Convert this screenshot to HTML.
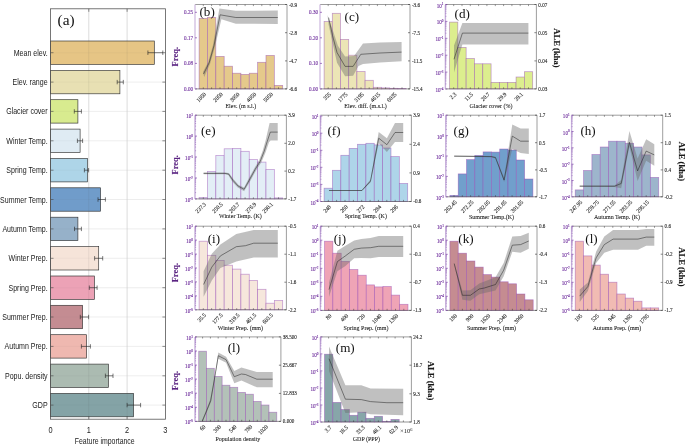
<!DOCTYPE html>
<html><head><meta charset="utf-8"><title>Feature importance and ALE plots</title>
<style>html,body{margin:0;padding:0;background:#fff}svg{display:block;will-change:transform}.s{font-family:"Liberation Serif",serif}.a{font-family:"Liberation Sans",sans-serif}</style></head>
<body><svg width="685" height="447" viewBox="0 0 685 447">
<rect width="685" height="447" fill="#fff"/>
<rect x="50.5" y="8.8" width="114.9" height="410.4" fill="#fff"/>
<line x1="88.8" y1="8.8" x2="88.8" y2="419.2" stroke="#e3e3e3" stroke-width="0.7"/>
<line x1="127.1" y1="8.8" x2="127.1" y2="419.2" stroke="#e3e3e3" stroke-width="0.7"/>
<line x1="50.5" y1="52.7" x2="165.4" y2="52.7" stroke="#ececec" stroke-width="0.6"/>
<line x1="50.5" y1="82.1" x2="165.4" y2="82.1" stroke="#ececec" stroke-width="0.6"/>
<line x1="50.5" y1="111.4" x2="165.4" y2="111.4" stroke="#ececec" stroke-width="0.6"/>
<line x1="50.5" y1="140.8" x2="165.4" y2="140.8" stroke="#ececec" stroke-width="0.6"/>
<line x1="50.5" y1="170.2" x2="165.4" y2="170.2" stroke="#ececec" stroke-width="0.6"/>
<line x1="50.5" y1="199.5" x2="165.4" y2="199.5" stroke="#ececec" stroke-width="0.6"/>
<line x1="50.5" y1="228.9" x2="165.4" y2="228.9" stroke="#ececec" stroke-width="0.6"/>
<line x1="50.5" y1="258.3" x2="165.4" y2="258.3" stroke="#ececec" stroke-width="0.6"/>
<line x1="50.5" y1="287.7" x2="165.4" y2="287.7" stroke="#ececec" stroke-width="0.6"/>
<line x1="50.5" y1="317.0" x2="165.4" y2="317.0" stroke="#ececec" stroke-width="0.6"/>
<line x1="50.5" y1="346.4" x2="165.4" y2="346.4" stroke="#ececec" stroke-width="0.6"/>
<line x1="50.5" y1="375.8" x2="165.4" y2="375.8" stroke="#ececec" stroke-width="0.6"/>
<line x1="50.5" y1="405.1" x2="165.4" y2="405.1" stroke="#ececec" stroke-width="0.6"/>
<rect x="50.5" y="41.0" width="103.8" height="23.4" fill="#e4c17c" fill-opacity="0.93" stroke="#303030" stroke-width="0.65"/>
<path d="M147.9 52.7H162.8M147.9 50.5V54.9M162.8 50.5V54.9" stroke="#222" stroke-width="0.6" fill="none"/>
<path d="M50.5 52.7h3M165.4 52.7h-3" stroke="#444" stroke-width="0.6"/>
<text x="47.6" y="55.8" class="a" font-size="9.2" text-anchor="end" fill="#1a1a1a" transform="translate(47.6 0) scale(0.765 1) translate(-47.6 0)">Mean elev.</text>
<rect x="50.5" y="70.4" width="69.4" height="23.4" fill="#e6dead" fill-opacity="0.93" stroke="#303030" stroke-width="0.65"/>
<path d="M117.2 82.1H123.3M117.2 79.9V84.3M123.3 79.9V84.3" stroke="#222" stroke-width="0.6" fill="none"/>
<path d="M50.5 82.1h3M165.4 82.1h-3" stroke="#444" stroke-width="0.6"/>
<text x="47.6" y="85.2" class="a" font-size="9.2" text-anchor="end" fill="#1a1a1a" transform="translate(47.6 0) scale(0.765 1) translate(-47.6 0)">Elev. range</text>
<rect x="50.5" y="99.7" width="27.4" height="23.4" fill="#d5ea86" fill-opacity="0.93" stroke="#303030" stroke-width="0.65"/>
<path d="M74.3 111.4H81.4M74.3 109.2V113.6M81.4 109.2V113.6" stroke="#222" stroke-width="0.6" fill="none"/>
<path d="M50.5 111.4h3M165.4 111.4h-3" stroke="#444" stroke-width="0.6"/>
<text x="47.6" y="114.5" class="a" font-size="9.2" text-anchor="end" fill="#1a1a1a" transform="translate(47.6 0) scale(0.765 1) translate(-47.6 0)">Glacier cover</text>
<rect x="50.5" y="129.1" width="29.6" height="23.4" fill="#dde9f2" fill-opacity="0.93" stroke="#303030" stroke-width="0.65"/>
<path d="M77.4 140.8H82.6M77.4 138.6V143.0M82.6 138.6V143.0" stroke="#222" stroke-width="0.6" fill="none"/>
<path d="M50.5 140.8h3M165.4 140.8h-3" stroke="#444" stroke-width="0.6"/>
<text x="47.6" y="143.9" class="a" font-size="9.2" text-anchor="end" fill="#1a1a1a" transform="translate(47.6 0) scale(0.765 1) translate(-47.6 0)">Winter Temp.</text>
<rect x="50.5" y="158.5" width="37.0" height="23.4" fill="#a8d2e6" fill-opacity="0.93" stroke="#303030" stroke-width="0.65"/>
<path d="M84.4 170.2H88.6M84.4 168.0V172.4M88.6 168.0V172.4" stroke="#222" stroke-width="0.6" fill="none"/>
<path d="M50.5 170.2h3M165.4 170.2h-3" stroke="#444" stroke-width="0.6"/>
<text x="47.6" y="173.3" class="a" font-size="9.2" text-anchor="end" fill="#1a1a1a" transform="translate(47.6 0) scale(0.765 1) translate(-47.6 0)">Spring Temp.</text>
<rect x="50.5" y="187.8" width="50.0" height="23.4" fill="#6595c6" fill-opacity="0.93" stroke="#303030" stroke-width="0.65"/>
<path d="M98 199.5H105.4M98 197.3V201.7M105.4 197.3V201.7" stroke="#222" stroke-width="0.6" fill="none"/>
<path d="M50.5 199.5h3M165.4 199.5h-3" stroke="#444" stroke-width="0.6"/>
<text x="47.6" y="202.6" class="a" font-size="9.2" text-anchor="end" fill="#1a1a1a" transform="translate(47.6 0) scale(0.765 1) translate(-47.6 0)">Summer Temp.</text>
<rect x="50.5" y="217.2" width="27.4" height="23.4" fill="#8eabc5" fill-opacity="0.93" stroke="#303030" stroke-width="0.65"/>
<path d="M74.5 228.9H81.4M74.5 226.7V231.1M81.4 226.7V231.1" stroke="#222" stroke-width="0.6" fill="none"/>
<path d="M50.5 228.9h3M165.4 228.9h-3" stroke="#444" stroke-width="0.6"/>
<text x="47.6" y="232.0" class="a" font-size="9.2" text-anchor="end" fill="#1a1a1a" transform="translate(47.6 0) scale(0.765 1) translate(-47.6 0)">Autumn Temp.</text>
<rect x="50.5" y="246.6" width="48.2" height="23.4" fill="#f5e2d6" fill-opacity="0.93" stroke="#303030" stroke-width="0.65"/>
<path d="M94.6 258.3H102.7M94.6 256.1V260.5M102.7 256.1V260.5" stroke="#222" stroke-width="0.6" fill="none"/>
<path d="M50.5 258.3h3M165.4 258.3h-3" stroke="#444" stroke-width="0.6"/>
<text x="47.6" y="261.4" class="a" font-size="9.2" text-anchor="end" fill="#1a1a1a" transform="translate(47.6 0) scale(0.765 1) translate(-47.6 0)">Winter Prep.</text>
<rect x="50.5" y="276.0" width="43.9" height="23.4" fill="#eb9bb0" fill-opacity="0.93" stroke="#303030" stroke-width="0.65"/>
<path d="M89.3 287.7H97.1M89.3 285.5V289.9M97.1 285.5V289.9" stroke="#222" stroke-width="0.6" fill="none"/>
<path d="M50.5 287.7h3M165.4 287.7h-3" stroke="#444" stroke-width="0.6"/>
<text x="47.6" y="290.8" class="a" font-size="9.2" text-anchor="end" fill="#1a1a1a" transform="translate(47.6 0) scale(0.765 1) translate(-47.6 0)">Spring Prep.</text>
<rect x="50.5" y="305.3" width="32.1" height="23.4" fill="#c0838a" fill-opacity="0.93" stroke="#303030" stroke-width="0.65"/>
<path d="M80.3 317.0H88.6M80.3 314.8V319.2M88.6 314.8V319.2" stroke="#222" stroke-width="0.6" fill="none"/>
<path d="M50.5 317.0h3M165.4 317.0h-3" stroke="#444" stroke-width="0.6"/>
<text x="47.6" y="320.1" class="a" font-size="9.2" text-anchor="end" fill="#1a1a1a" transform="translate(47.6 0) scale(0.765 1) translate(-47.6 0)">Summer Prep.</text>
<rect x="50.5" y="334.7" width="36.1" height="23.4" fill="#eeb3aa" fill-opacity="0.93" stroke="#303030" stroke-width="0.65"/>
<path d="M81.4 346.4H90.4M81.4 344.2V348.6M90.4 344.2V348.6" stroke="#222" stroke-width="0.6" fill="none"/>
<path d="M50.5 346.4h3M165.4 346.4h-3" stroke="#444" stroke-width="0.6"/>
<text x="47.6" y="349.5" class="a" font-size="9.2" text-anchor="end" fill="#1a1a1a" transform="translate(47.6 0) scale(0.765 1) translate(-47.6 0)">Autumn Prep.</text>
<rect x="50.5" y="364.1" width="58.0" height="23.4" fill="#a5b6ab" fill-opacity="0.93" stroke="#303030" stroke-width="0.65"/>
<path d="M105.4 375.8H113.0M105.4 373.6V378.0M113.0 373.6V378.0" stroke="#222" stroke-width="0.6" fill="none"/>
<path d="M50.5 375.8h3M165.4 375.8h-3" stroke="#444" stroke-width="0.6"/>
<text x="47.6" y="378.9" class="a" font-size="9.2" text-anchor="end" fill="#1a1a1a" transform="translate(47.6 0) scale(0.765 1) translate(-47.6 0)">Popu. density</text>
<rect x="50.5" y="393.4" width="83.1" height="23.4" fill="#7b9c9f" fill-opacity="0.93" stroke="#303030" stroke-width="0.65"/>
<path d="M127.1 405.1H140.6M127.1 402.9V407.3M140.6 402.9V407.3" stroke="#222" stroke-width="0.6" fill="none"/>
<path d="M50.5 405.1h3M165.4 405.1h-3" stroke="#444" stroke-width="0.6"/>
<text x="47.6" y="408.2" class="a" font-size="9.2" text-anchor="end" fill="#1a1a1a" transform="translate(47.6 0) scale(0.765 1) translate(-47.6 0)">GDP</text>
<line x1="88.8" y1="8.8" x2="88.8" y2="419.2" stroke="#555" stroke-opacity="0.13" stroke-width="0.7"/>
<line x1="127.1" y1="8.8" x2="127.1" y2="419.2" stroke="#555" stroke-opacity="0.13" stroke-width="0.7"/>
<line x1="50.5" y1="52.7" x2="165.4" y2="52.7" stroke="#555" stroke-opacity="0.08" stroke-width="0.6"/>
<line x1="50.5" y1="82.1" x2="165.4" y2="82.1" stroke="#555" stroke-opacity="0.08" stroke-width="0.6"/>
<line x1="50.5" y1="111.4" x2="165.4" y2="111.4" stroke="#555" stroke-opacity="0.08" stroke-width="0.6"/>
<line x1="50.5" y1="140.8" x2="165.4" y2="140.8" stroke="#555" stroke-opacity="0.08" stroke-width="0.6"/>
<line x1="50.5" y1="170.2" x2="165.4" y2="170.2" stroke="#555" stroke-opacity="0.08" stroke-width="0.6"/>
<line x1="50.5" y1="199.5" x2="165.4" y2="199.5" stroke="#555" stroke-opacity="0.08" stroke-width="0.6"/>
<line x1="50.5" y1="228.9" x2="165.4" y2="228.9" stroke="#555" stroke-opacity="0.08" stroke-width="0.6"/>
<line x1="50.5" y1="258.3" x2="165.4" y2="258.3" stroke="#555" stroke-opacity="0.08" stroke-width="0.6"/>
<line x1="50.5" y1="287.7" x2="165.4" y2="287.7" stroke="#555" stroke-opacity="0.08" stroke-width="0.6"/>
<line x1="50.5" y1="317.0" x2="165.4" y2="317.0" stroke="#555" stroke-opacity="0.08" stroke-width="0.6"/>
<line x1="50.5" y1="346.4" x2="165.4" y2="346.4" stroke="#555" stroke-opacity="0.08" stroke-width="0.6"/>
<line x1="50.5" y1="375.8" x2="165.4" y2="375.8" stroke="#555" stroke-opacity="0.08" stroke-width="0.6"/>
<line x1="50.5" y1="405.1" x2="165.4" y2="405.1" stroke="#555" stroke-opacity="0.08" stroke-width="0.6"/>
<rect x="50.5" y="8.8" width="114.9" height="410.4" fill="none" stroke="#555" stroke-width="0.8"/>
<text x="50.5" y="432.6" class="a" font-size="9.2" text-anchor="middle" fill="#1a1a1a" transform="translate(50.5 0) scale(0.8 1) translate(-50.5 0)">0</text>
<path d="M88.8 419.2v-3M88.8 8.8v3" stroke="#444" stroke-width="0.6"/>
<text x="88.8" y="432.6" class="a" font-size="9.2" text-anchor="middle" fill="#1a1a1a" transform="translate(88.8 0) scale(0.8 1) translate(-88.8 0)">1</text>
<path d="M127.1 419.2v-3M127.1 8.8v3" stroke="#444" stroke-width="0.6"/>
<text x="127.1" y="432.6" class="a" font-size="9.2" text-anchor="middle" fill="#1a1a1a" transform="translate(127.1 0) scale(0.8 1) translate(-127.1 0)">2</text>
<text x="165.4" y="432.6" class="a" font-size="9.2" text-anchor="middle" fill="#1a1a1a" transform="translate(165.4 0) scale(0.8 1) translate(-165.4 0)">3</text>
<text x="104.7" y="443.8" class="a" font-size="9.2" text-anchor="middle" fill="#1a1a1a" textLength="59.8" lengthAdjust="spacingAndGlyphs">Feature importance</text>
<text x="0" y="0" class="s" font-size="15.4" fill="#111" transform="translate(57.6 24.9) scale(1 0.9)">(a)</text>
<g>
<rect x="199.10" y="18.4" width="8.36" height="70.5" fill="#e5c98b" stroke="#9345b3" stroke-opacity="0.55" stroke-width="0.72"/>
<rect x="207.46" y="17.4" width="8.36" height="71.5" fill="#e5c98b" stroke="#9345b3" stroke-opacity="0.55" stroke-width="0.72"/>
<rect x="215.82" y="56.4" width="8.36" height="32.5" fill="#e5c98b" stroke="#9345b3" stroke-opacity="0.55" stroke-width="0.72"/>
<rect x="224.18" y="66.2" width="8.36" height="22.7" fill="#e5c98b" stroke="#9345b3" stroke-opacity="0.55" stroke-width="0.72"/>
<rect x="232.54" y="73.2" width="8.36" height="15.7" fill="#e5c98b" stroke="#9345b3" stroke-opacity="0.55" stroke-width="0.72"/>
<rect x="240.90" y="74.4" width="8.36" height="14.5" fill="#e5c98b" stroke="#9345b3" stroke-opacity="0.55" stroke-width="0.72"/>
<rect x="249.26" y="73.2" width="8.36" height="15.7" fill="#e5c98b" stroke="#9345b3" stroke-opacity="0.55" stroke-width="0.72"/>
<rect x="257.62" y="62.3" width="8.36" height="26.6" fill="#e5c98b" stroke="#9345b3" stroke-opacity="0.55" stroke-width="0.72"/>
<rect x="265.98" y="55.4" width="8.36" height="33.5" fill="#e5c98b" stroke="#9345b3" stroke-opacity="0.55" stroke-width="0.72"/>
<rect x="274.34" y="85.4" width="8.36" height="3.5" fill="#e5c98b" stroke="#9345b3" stroke-opacity="0.55" stroke-width="0.72"/>
<polygon points="203.0,72.0 208.4,61.5 213.0,45.0 219.4,8.6 235.8,10.8 277.8,10.6 277.8,24.0 235.8,23.7 221.4,19.2 215.0,46.4 210.0,64.0 204.2,77.0" fill="#6a6a6a" fill-opacity="0.42"/>
<polyline points="203.5,74.0 209.2,62.7 214.0,45.6 220.1,14.8 235.8,17.5 277.8,17.5" fill="none" stroke="#1e1e1e" stroke-width="0.5" stroke-linejoin="round"/>
<path d="M195.0 4.5H287.0V88.9" fill="none" stroke="#858585" stroke-width="0.8"/>
<path d="M195.0 88.9H287.0" fill="none" stroke="#4a4a4a" stroke-width="0.6"/>
<line x1="195.0" y1="4.5" x2="195.0" y2="88.9" stroke="#d3c0e3" stroke-width="1.4"/>
<line x1="195.0" y1="12.3" x2="197.0" y2="12.3" stroke="#6d2c9c" stroke-width="0.6"/>
<text class="s" font-size="5.5" text-anchor="end" fill="#6d2c9c" stroke="#6d2c9c" stroke-width="0.12" transform="translate(193.0 14.2) scale(0.93 1)">0.25</text>
<line x1="195.0" y1="37.8" x2="197.0" y2="37.8" stroke="#6d2c9c" stroke-width="0.6"/>
<text class="s" font-size="5.5" text-anchor="end" fill="#6d2c9c" stroke="#6d2c9c" stroke-width="0.12" transform="translate(193.0 39.7) scale(0.93 1)">0.17</text>
<line x1="195.0" y1="63.4" x2="197.0" y2="63.4" stroke="#6d2c9c" stroke-width="0.6"/>
<text class="s" font-size="5.5" text-anchor="end" fill="#6d2c9c" stroke="#6d2c9c" stroke-width="0.12" transform="translate(193.0 65.3) scale(0.93 1)">0.08</text>
<line x1="195.0" y1="88.9" x2="197.0" y2="88.9" stroke="#6d2c9c" stroke-width="0.6"/>
<text class="s" font-size="5.5" text-anchor="end" fill="#6d2c9c" stroke="#6d2c9c" stroke-width="0.12" transform="translate(193.0 90.8) scale(0.93 1)">0.00</text>
<line x1="287.0" y1="4.5" x2="285.0" y2="4.5" stroke="#333" stroke-width="0.6"/>
<text class="s" font-size="5.5" fill="#1c1c1c" stroke="#1c1c1c" stroke-width="0.1" transform="translate(288.9 6.5) scale(0.93 1)">-0.9</text>
<line x1="287.0" y1="32.7" x2="285.0" y2="32.7" stroke="#333" stroke-width="0.6"/>
<text class="s" font-size="5.5" fill="#1c1c1c" stroke="#1c1c1c" stroke-width="0.1" transform="translate(288.9 34.7) scale(0.93 1)">-2.8</text>
<line x1="287.0" y1="60.9" x2="285.0" y2="60.9" stroke="#333" stroke-width="0.6"/>
<text class="s" font-size="5.5" fill="#1c1c1c" stroke="#1c1c1c" stroke-width="0.1" transform="translate(288.9 62.9) scale(0.93 1)">-4.7</text>
<line x1="287.0" y1="88.9" x2="285.0" y2="88.9" stroke="#333" stroke-width="0.6"/>
<text class="s" font-size="5.5" fill="#1c1c1c" stroke="#1c1c1c" stroke-width="0.1" transform="translate(288.9 90.9) scale(0.93 1)">-6.6</text>
<path d="M203.3 88.9v-1.6M203.3 4.5v1.6M211.6 88.9v-1.6M211.6 4.5v1.6M220.0 88.9v-1.6M220.0 4.5v1.6M228.4 88.9v-1.6M228.4 4.5v1.6M236.7 88.9v-1.6M236.7 4.5v1.6M245.1 88.9v-1.6M245.1 4.5v1.6M253.4 88.9v-1.6M253.4 4.5v1.6M261.8 88.9v-1.6M261.8 4.5v1.6M270.2 88.9v-1.6M270.2 4.5v1.6M278.5 88.9v-1.6M278.5 4.5v1.6" stroke="#333" stroke-width="0.5"/>
<text class="s" font-size="5.9" text-anchor="end" fill="#1c1c1c" stroke="#1c1c1c" stroke-width="0.1" transform="translate(205.3 93.5) rotate(-45) scale(0.93 1)" dy="1.7">1050</text>
<text class="s" font-size="5.9" text-anchor="end" fill="#1c1c1c" stroke="#1c1c1c" stroke-width="0.1" transform="translate(222.0 93.5) rotate(-45) scale(0.93 1)" dy="1.7">2050</text>
<text class="s" font-size="5.9" text-anchor="end" fill="#1c1c1c" stroke="#1c1c1c" stroke-width="0.1" transform="translate(238.7 93.5) rotate(-45) scale(0.93 1)" dy="1.7">3050</text>
<text class="s" font-size="5.9" text-anchor="end" fill="#1c1c1c" stroke="#1c1c1c" stroke-width="0.1" transform="translate(255.4 93.5) rotate(-45) scale(0.93 1)" dy="1.7">4050</text>
<text class="s" font-size="5.9" text-anchor="end" fill="#1c1c1c" stroke="#1c1c1c" stroke-width="0.1" transform="translate(272.2 93.5) rotate(-45) scale(0.93 1)" dy="1.7">5050</text>
<text x="240.8" y="108.4" class="s" font-size="6" text-anchor="middle" fill="#1c1c1c" stroke="#1c1c1c" stroke-width="0.08">Elev. (m s.l.)</text>
<text class="s" font-size="12.6" fill="#111" transform="translate(199.5 16.4) scale(1.04 0.92)">(b)</text>

</g>
<g>
<rect x="324.10" y="21.5" width="8.20" height="67.4" fill="#ece5b6" stroke="#9345b3" stroke-opacity="0.55" stroke-width="0.72"/>
<rect x="332.30" y="13.3" width="8.20" height="75.6" fill="#ece5b6" stroke="#9345b3" stroke-opacity="0.55" stroke-width="0.72"/>
<rect x="340.50" y="39.4" width="8.20" height="49.5" fill="#ece5b6" stroke="#9345b3" stroke-opacity="0.55" stroke-width="0.72"/>
<rect x="348.70" y="55.2" width="8.20" height="33.7" fill="#ece5b6" stroke="#9345b3" stroke-opacity="0.55" stroke-width="0.72"/>
<rect x="356.90" y="71.5" width="8.20" height="17.4" fill="#ece5b6" stroke="#9345b3" stroke-opacity="0.55" stroke-width="0.72"/>
<rect x="365.10" y="80.3" width="8.20" height="8.6" fill="#ece5b6" stroke="#9345b3" stroke-opacity="0.55" stroke-width="0.72"/>
<rect x="373.30" y="87.3" width="8.20" height="1.6" fill="#ece5b6" stroke="#9345b3" stroke-opacity="0.55" stroke-width="0.72"/>
<rect x="381.50" y="87.9" width="8.20" height="1.0" fill="#ece5b6" stroke="#9345b3" stroke-opacity="0.55" stroke-width="0.72"/>
<rect x="389.70" y="88.3" width="8.20" height="0.6" fill="#ece5b6" stroke="#9345b3" stroke-opacity="0.55" stroke-width="0.72"/>
<rect x="397.90" y="88.5" width="8.20" height="0.4" fill="#ece5b6" stroke="#9345b3" stroke-opacity="0.55" stroke-width="0.72"/>
<polygon points="327.5,14.9 333.4,31.9 337.9,45.8 345.1,56.4 354.0,56.0 363.0,43.5 380.0,42.6 401.6,41.9 401.6,61.3 380.0,62.5 363.0,64.1 358.5,65.9 353.1,75.7 345.1,76.2 337.0,62.8 332.5,42.6 328.6,24.7" fill="#6a6a6a" fill-opacity="0.42"/>
<polyline points="328.6,17.6 332.5,35.4 337.0,52.5 345.1,66.4 353.1,66.4 360.8,54.3 380.0,53.0 401.6,52.1" fill="none" stroke="#1e1e1e" stroke-width="0.5" stroke-linejoin="round"/>
<path d="M320.0 4.5H410.0V88.9" fill="none" stroke="#858585" stroke-width="0.8"/>
<path d="M320.0 88.9H410.0" fill="none" stroke="#4a4a4a" stroke-width="0.6"/>
<line x1="320.0" y1="4.5" x2="320.0" y2="88.9" stroke="#d3c0e3" stroke-width="1.4"/>
<line x1="320.0" y1="12.3" x2="322.0" y2="12.3" stroke="#6d2c9c" stroke-width="0.6"/>
<text class="s" font-size="5.5" text-anchor="end" fill="#6d2c9c" stroke="#6d2c9c" stroke-width="0.12" transform="translate(318.0 14.2) scale(0.93 1)">0.30</text>
<line x1="320.0" y1="37.8" x2="322.0" y2="37.8" stroke="#6d2c9c" stroke-width="0.6"/>
<text class="s" font-size="5.5" text-anchor="end" fill="#6d2c9c" stroke="#6d2c9c" stroke-width="0.12" transform="translate(318.0 39.7) scale(0.93 1)">0.20</text>
<line x1="320.0" y1="63.4" x2="322.0" y2="63.4" stroke="#6d2c9c" stroke-width="0.6"/>
<text class="s" font-size="5.5" text-anchor="end" fill="#6d2c9c" stroke="#6d2c9c" stroke-width="0.12" transform="translate(318.0 65.3) scale(0.93 1)">0.10</text>
<line x1="320.0" y1="88.9" x2="322.0" y2="88.9" stroke="#6d2c9c" stroke-width="0.6"/>
<text class="s" font-size="5.5" text-anchor="end" fill="#6d2c9c" stroke="#6d2c9c" stroke-width="0.12" transform="translate(318.0 90.8) scale(0.93 1)">0.00</text>
<line x1="410.0" y1="4.5" x2="408.0" y2="4.5" stroke="#333" stroke-width="0.6"/>
<text class="s" font-size="5.5" fill="#1c1c1c" stroke="#1c1c1c" stroke-width="0.1" transform="translate(411.9 6.5) scale(0.93 1)">-3.6</text>
<line x1="410.0" y1="32.7" x2="408.0" y2="32.7" stroke="#333" stroke-width="0.6"/>
<text class="s" font-size="5.5" fill="#1c1c1c" stroke="#1c1c1c" stroke-width="0.1" transform="translate(411.9 34.7) scale(0.93 1)">-7.5</text>
<line x1="410.0" y1="60.9" x2="408.0" y2="60.9" stroke="#333" stroke-width="0.6"/>
<text class="s" font-size="5.5" fill="#1c1c1c" stroke="#1c1c1c" stroke-width="0.1" transform="translate(411.9 62.9) scale(0.93 1)">-11.5</text>
<line x1="410.0" y1="88.9" x2="408.0" y2="88.9" stroke="#333" stroke-width="0.6"/>
<text class="s" font-size="5.5" fill="#1c1c1c" stroke="#1c1c1c" stroke-width="0.1" transform="translate(411.9 90.9) scale(0.93 1)">-15.4</text>
<path d="M328.2 88.9v-1.6M328.2 4.5v1.6M336.4 88.9v-1.6M336.4 4.5v1.6M344.6 88.9v-1.6M344.6 4.5v1.6M352.8 88.9v-1.6M352.8 4.5v1.6M361.0 88.9v-1.6M361.0 4.5v1.6M369.2 88.9v-1.6M369.2 4.5v1.6M377.4 88.9v-1.6M377.4 4.5v1.6M385.6 88.9v-1.6M385.6 4.5v1.6M393.8 88.9v-1.6M393.8 4.5v1.6M402.0 88.9v-1.6M402.0 4.5v1.6" stroke="#333" stroke-width="0.5"/>
<text class="s" font-size="5.9" text-anchor="end" fill="#1c1c1c" stroke="#1c1c1c" stroke-width="0.1" transform="translate(330.2 93.5) rotate(-45) scale(0.93 1)" dy="1.7">355</text>
<text class="s" font-size="5.9" text-anchor="end" fill="#1c1c1c" stroke="#1c1c1c" stroke-width="0.1" transform="translate(346.6 93.5) rotate(-45) scale(0.93 1)" dy="1.7">1775</text>
<text class="s" font-size="5.9" text-anchor="end" fill="#1c1c1c" stroke="#1c1c1c" stroke-width="0.1" transform="translate(363.0 93.5) rotate(-45) scale(0.93 1)" dy="1.7">3195</text>
<text class="s" font-size="5.9" text-anchor="end" fill="#1c1c1c" stroke="#1c1c1c" stroke-width="0.1" transform="translate(379.4 93.5) rotate(-45) scale(0.93 1)" dy="1.7">4615</text>
<text class="s" font-size="5.9" text-anchor="end" fill="#1c1c1c" stroke="#1c1c1c" stroke-width="0.1" transform="translate(395.8 93.5) rotate(-45) scale(0.93 1)" dy="1.7">6035</text>
<text x="365.5" y="108.4" class="s" font-size="6" text-anchor="middle" fill="#1c1c1c" stroke="#1c1c1c" stroke-width="0.08">Elev. diff. (m.s.l.)</text>
<text class="s" font-size="12.6" fill="#111" transform="translate(344.6 21.2) scale(1.04 0.92)">(c)</text>

</g>
<g>
<rect x="449.50" y="22.1" width="8.32" height="66.8" fill="#dcee8e" stroke="#9345b3" stroke-opacity="0.55" stroke-width="0.72"/>
<rect x="457.82" y="47.4" width="8.32" height="41.5" fill="#dcee8e" stroke="#9345b3" stroke-opacity="0.55" stroke-width="0.72"/>
<rect x="466.14" y="58.5" width="8.32" height="30.4" fill="#dcee8e" stroke="#9345b3" stroke-opacity="0.55" stroke-width="0.72"/>
<rect x="474.46" y="63.8" width="8.32" height="25.1" fill="#dcee8e" stroke="#9345b3" stroke-opacity="0.55" stroke-width="0.72"/>
<rect x="482.78" y="63.8" width="8.32" height="25.1" fill="#dcee8e" stroke="#9345b3" stroke-opacity="0.55" stroke-width="0.72"/>
<rect x="491.10" y="82.4" width="8.32" height="6.5" fill="#dcee8e" stroke="#9345b3" stroke-opacity="0.55" stroke-width="0.72"/>
<rect x="499.42" y="82.4" width="8.32" height="6.5" fill="#dcee8e" stroke="#9345b3" stroke-opacity="0.55" stroke-width="0.72"/>
<rect x="507.74" y="82.4" width="8.32" height="6.5" fill="#dcee8e" stroke="#9345b3" stroke-opacity="0.55" stroke-width="0.72"/>
<rect x="516.06" y="77.0" width="8.32" height="11.9" fill="#dcee8e" stroke="#9345b3" stroke-opacity="0.55" stroke-width="0.72"/>
<rect x="524.38" y="71.7" width="8.32" height="17.2" fill="#dcee8e" stroke="#9345b3" stroke-opacity="0.55" stroke-width="0.72"/>
<polygon points="454.0,45.6 462.4,22.9 528.4,22.9 528.4,44.6 462.4,44.6 454.0,72.6" fill="#6a6a6a" fill-opacity="0.42"/>
<polyline points="454.0,59.3 462.4,33.1 528.4,33.1" fill="none" stroke="#1e1e1e" stroke-width="0.5" stroke-linejoin="round"/>
<path d="M445.4 4.5H536.4V88.9" fill="none" stroke="#858585" stroke-width="0.8"/>
<path d="M445.4 88.9H536.4" fill="none" stroke="#4a4a4a" stroke-width="0.6"/>
<line x1="445.4" y1="4.5" x2="445.4" y2="88.9" stroke="#c6afdb" stroke-width="1.4"/>
<line x1="445.4" y1="4.5" x2="447.4" y2="4.5" stroke="#6d2c9c" stroke-width="0.6"/>
<text class="s" font-size="5.5" text-anchor="end" fill="#6d2c9c" stroke="#6d2c9c" stroke-width="0.12" transform="translate(443.4 7.5) scale(0.93 1)">10<tspan dy="-2.1" font-size="3.6">1</tspan></text>
<line x1="445.4" y1="21.4" x2="447.4" y2="21.4" stroke="#6d2c9c" stroke-width="0.6"/>
<text class="s" font-size="5.5" text-anchor="end" fill="#6d2c9c" stroke="#6d2c9c" stroke-width="0.12" transform="translate(443.4 24.4) scale(0.93 1)">10<tspan dy="-2.1" font-size="3.6">0</tspan></text>
<line x1="445.4" y1="38.3" x2="447.4" y2="38.3" stroke="#6d2c9c" stroke-width="0.6"/>
<text class="s" font-size="5.5" text-anchor="end" fill="#6d2c9c" stroke="#6d2c9c" stroke-width="0.12" transform="translate(443.4 41.3) scale(0.93 1)">10<tspan dy="-2.1" font-size="3.6">-1</tspan></text>
<line x1="445.4" y1="55.2" x2="447.4" y2="55.2" stroke="#6d2c9c" stroke-width="0.6"/>
<text class="s" font-size="5.5" text-anchor="end" fill="#6d2c9c" stroke="#6d2c9c" stroke-width="0.12" transform="translate(443.4 58.2) scale(0.93 1)">10<tspan dy="-2.1" font-size="3.6">-2</tspan></text>
<line x1="445.4" y1="72.1" x2="447.4" y2="72.1" stroke="#6d2c9c" stroke-width="0.6"/>
<text class="s" font-size="5.5" text-anchor="end" fill="#6d2c9c" stroke="#6d2c9c" stroke-width="0.12" transform="translate(443.4 75.1) scale(0.93 1)">10<tspan dy="-2.1" font-size="3.6">-3</tspan></text>
<line x1="445.4" y1="89.0" x2="447.4" y2="89.0" stroke="#6d2c9c" stroke-width="0.6"/>
<text class="s" font-size="5.5" text-anchor="end" fill="#6d2c9c" stroke="#6d2c9c" stroke-width="0.12" transform="translate(443.4 92.0) scale(0.93 1)">10<tspan dy="-2.1" font-size="3.6">-4</tspan></text>
<path d="M445.4 16.31h1.1M445.4 13.34h1.1M445.4 11.23h1.1M445.4 9.59h1.1M445.4 8.25h1.1M445.4 7.12h1.1M445.4 6.14h1.1M445.4 5.27h1.1M445.4 33.21h1.1M445.4 30.24h1.1M445.4 28.13h1.1M445.4 26.49h1.1M445.4 25.15h1.1M445.4 24.02h1.1M445.4 23.04h1.1M445.4 22.17h1.1M445.4 50.11h1.1M445.4 47.14h1.1M445.4 45.03h1.1M445.4 43.39h1.1M445.4 42.05h1.1M445.4 40.92h1.1M445.4 39.94h1.1M445.4 39.07h1.1M445.4 67.01h1.1M445.4 64.04h1.1M445.4 61.93h1.1M445.4 60.29h1.1M445.4 58.95h1.1M445.4 57.82h1.1M445.4 56.84h1.1M445.4 55.97h1.1M445.4 83.91h1.1M445.4 80.94h1.1M445.4 78.83h1.1M445.4 77.19h1.1M445.4 75.85h1.1M445.4 74.72h1.1M445.4 73.74h1.1M445.4 72.87h1.1" stroke="#6d2c9c" stroke-width="0.45" opacity="0.8"/>
<line x1="536.4" y1="4.5" x2="534.4" y2="4.5" stroke="#333" stroke-width="0.6"/>
<text class="s" font-size="5.5" fill="#1c1c1c" stroke="#1c1c1c" stroke-width="0.1" transform="translate(538.3 6.5) scale(0.93 1)">0.07</text>
<line x1="536.4" y1="32.7" x2="534.4" y2="32.7" stroke="#333" stroke-width="0.6"/>
<text class="s" font-size="5.5" fill="#1c1c1c" stroke="#1c1c1c" stroke-width="0.1" transform="translate(538.3 34.7) scale(0.93 1)">0.05</text>
<line x1="536.4" y1="60.9" x2="534.4" y2="60.9" stroke="#333" stroke-width="0.6"/>
<text class="s" font-size="5.5" fill="#1c1c1c" stroke="#1c1c1c" stroke-width="0.1" transform="translate(538.3 62.9) scale(0.93 1)">0.04</text>
<line x1="536.4" y1="88.9" x2="534.4" y2="88.9" stroke="#333" stroke-width="0.6"/>
<text class="s" font-size="5.5" fill="#1c1c1c" stroke="#1c1c1c" stroke-width="0.1" transform="translate(538.3 90.9) scale(0.93 1)">0.03</text>
<path d="M453.7 88.9v-1.6M453.7 4.5v1.6M462.0 88.9v-1.6M462.0 4.5v1.6M470.3 88.9v-1.6M470.3 4.5v1.6M478.6 88.9v-1.6M478.6 4.5v1.6M486.9 88.9v-1.6M486.9 4.5v1.6M495.3 88.9v-1.6M495.3 4.5v1.6M503.6 88.9v-1.6M503.6 4.5v1.6M511.9 88.9v-1.6M511.9 4.5v1.6M520.2 88.9v-1.6M520.2 4.5v1.6M528.5 88.9v-1.6M528.5 4.5v1.6" stroke="#333" stroke-width="0.5"/>
<text class="s" font-size="5.9" text-anchor="end" fill="#1c1c1c" stroke="#1c1c1c" stroke-width="0.1" transform="translate(455.7 93.5) rotate(-45) scale(0.93 1)" dy="1.7">2.3</text>
<text class="s" font-size="5.9" text-anchor="end" fill="#1c1c1c" stroke="#1c1c1c" stroke-width="0.1" transform="translate(472.3 93.5) rotate(-45) scale(0.93 1)" dy="1.7">11.5</text>
<text class="s" font-size="5.9" text-anchor="end" fill="#1c1c1c" stroke="#1c1c1c" stroke-width="0.1" transform="translate(488.9 93.5) rotate(-45) scale(0.93 1)" dy="1.7">20.7</text>
<text class="s" font-size="5.9" text-anchor="end" fill="#1c1c1c" stroke="#1c1c1c" stroke-width="0.1" transform="translate(505.6 93.5) rotate(-45) scale(0.93 1)" dy="1.7">29.9</text>
<text class="s" font-size="5.9" text-anchor="end" fill="#1c1c1c" stroke="#1c1c1c" stroke-width="0.1" transform="translate(522.2 93.5) rotate(-45) scale(0.93 1)" dy="1.7">39.1</text>
<text x="491.0" y="108.4" class="s" font-size="6" text-anchor="middle" fill="#1c1c1c" stroke="#1c1c1c" stroke-width="0.08">Glacier cover (%)</text>
<text class="s" font-size="12.6" fill="#111" transform="translate(454.6 18.4) scale(1.04 0.92)">(d)</text>

</g>
<g>
<rect x="199.10" y="197.4" width="8.36" height="1.5" fill="#e3eef6" stroke="#9345b3" stroke-opacity="0.55" stroke-width="0.72"/>
<rect x="207.46" y="171.5" width="8.36" height="27.4" fill="#e3eef6" stroke="#9345b3" stroke-opacity="0.55" stroke-width="0.72"/>
<rect x="215.82" y="155.5" width="8.36" height="43.4" fill="#e3eef6" stroke="#9345b3" stroke-opacity="0.55" stroke-width="0.72"/>
<rect x="224.18" y="148.8" width="8.36" height="50.1" fill="#e3eef6" stroke="#9345b3" stroke-opacity="0.55" stroke-width="0.72"/>
<rect x="232.54" y="148.4" width="8.36" height="50.5" fill="#e3eef6" stroke="#9345b3" stroke-opacity="0.55" stroke-width="0.72"/>
<rect x="240.90" y="151.3" width="8.36" height="47.6" fill="#e3eef6" stroke="#9345b3" stroke-opacity="0.55" stroke-width="0.72"/>
<rect x="249.26" y="159.6" width="8.36" height="39.3" fill="#e3eef6" stroke="#9345b3" stroke-opacity="0.55" stroke-width="0.72"/>
<rect x="257.62" y="162.1" width="8.36" height="36.8" fill="#e3eef6" stroke="#9345b3" stroke-opacity="0.55" stroke-width="0.72"/>
<rect x="265.98" y="169.4" width="8.36" height="29.5" fill="#e3eef6" stroke="#9345b3" stroke-opacity="0.55" stroke-width="0.72"/>
<rect x="274.34" y="197.9" width="8.36" height="1.0" fill="#e3eef6" stroke="#9345b3" stroke-opacity="0.55" stroke-width="0.72"/>
<polygon points="203.6,172.6 225.0,172.6 228.9,172.9 233.8,179.6 238.6,184.9 244.1,187.6 248.2,179.6 254.2,168.6 259.0,160.6 262.8,150.6 265.6,140.6 269.6,123.1 277.7,123.1 277.7,140.4 270.6,140.4 269.0,142.2 265.6,152.2 261.4,162.2 256.2,170.2 250.0,181.4 244.1,191.2 237.4,187.2 232.2,181.4 228.2,175.0 225.0,174.2 203.6,174.2" fill="#6a6a6a" fill-opacity="0.42"/>
<polyline points="203.6,173.4 225.0,173.4 228.6,174.0 233.0,180.4 238.1,186.0 244.1,189.3 249.1,180.4 255.2,169.3 260.2,161.3 264.2,151.2 267.3,141.2 270.3,132.1 277.7,132.1" fill="none" stroke="#1e1e1e" stroke-width="0.5" stroke-linejoin="round"/>
<path d="M195.0 115.2H286.4V198.9" fill="none" stroke="#858585" stroke-width="0.8"/>
<path d="M195.0 198.9H286.4" fill="none" stroke="#4a4a4a" stroke-width="0.6"/>
<line x1="195.0" y1="115.2" x2="195.0" y2="198.9" stroke="#c6afdb" stroke-width="1.4"/>
<line x1="195.0" y1="115.2" x2="197.0" y2="115.2" stroke="#6d2c9c" stroke-width="0.6"/>
<text class="s" font-size="5.5" text-anchor="end" fill="#6d2c9c" stroke="#6d2c9c" stroke-width="0.12" transform="translate(193.0 118.2) scale(0.93 1)">10<tspan dy="-2.1" font-size="3.6">1</tspan></text>
<line x1="195.0" y1="136.1" x2="197.0" y2="136.1" stroke="#6d2c9c" stroke-width="0.6"/>
<text class="s" font-size="5.5" text-anchor="end" fill="#6d2c9c" stroke="#6d2c9c" stroke-width="0.12" transform="translate(193.0 139.1) scale(0.93 1)">10<tspan dy="-2.1" font-size="3.6">0</tspan></text>
<line x1="195.0" y1="157.0" x2="197.0" y2="157.0" stroke="#6d2c9c" stroke-width="0.6"/>
<text class="s" font-size="5.5" text-anchor="end" fill="#6d2c9c" stroke="#6d2c9c" stroke-width="0.12" transform="translate(193.0 160.0) scale(0.93 1)">10<tspan dy="-2.1" font-size="3.6">-1</tspan></text>
<line x1="195.0" y1="178.0" x2="197.0" y2="178.0" stroke="#6d2c9c" stroke-width="0.6"/>
<text class="s" font-size="5.5" text-anchor="end" fill="#6d2c9c" stroke="#6d2c9c" stroke-width="0.12" transform="translate(193.0 181.0) scale(0.93 1)">10<tspan dy="-2.1" font-size="3.6">-2</tspan></text>
<line x1="195.0" y1="198.9" x2="197.0" y2="198.9" stroke="#6d2c9c" stroke-width="0.6"/>
<text class="s" font-size="5.5" text-anchor="end" fill="#6d2c9c" stroke="#6d2c9c" stroke-width="0.12" transform="translate(193.0 201.9) scale(0.93 1)">10<tspan dy="-2.1" font-size="3.6">-3</tspan></text>
<path d="M195.0 129.82h1.1M195.0 126.14h1.1M195.0 123.52h1.1M195.0 121.50h1.1M195.0 119.84h1.1M195.0 118.44h1.1M195.0 117.23h1.1M195.0 116.16h1.1M195.0 150.74h1.1M195.0 147.06h1.1M195.0 144.44h1.1M195.0 142.42h1.1M195.0 140.76h1.1M195.0 139.36h1.1M195.0 138.15h1.1M195.0 137.08h1.1M195.0 171.66h1.1M195.0 167.98h1.1M195.0 165.36h1.1M195.0 163.34h1.1M195.0 161.68h1.1M195.0 160.28h1.1M195.0 159.07h1.1M195.0 158.00h1.1M195.0 192.58h1.1M195.0 188.90h1.1M195.0 186.28h1.1M195.0 184.26h1.1M195.0 182.60h1.1M195.0 181.20h1.1M195.0 179.99h1.1M195.0 178.92h1.1" stroke="#6d2c9c" stroke-width="0.45" opacity="0.8"/>
<line x1="286.4" y1="115.2" x2="284.4" y2="115.2" stroke="#333" stroke-width="0.6"/>
<text class="s" font-size="5.5" fill="#1c1c1c" stroke="#1c1c1c" stroke-width="0.1" transform="translate(288.3 117.2) scale(0.93 1)">3.9</text>
<line x1="286.4" y1="143.3" x2="284.4" y2="143.3" stroke="#333" stroke-width="0.6"/>
<text class="s" font-size="5.5" fill="#1c1c1c" stroke="#1c1c1c" stroke-width="0.1" transform="translate(288.3 145.2) scale(0.93 1)">2.0</text>
<line x1="286.4" y1="171.1" x2="284.4" y2="171.1" stroke="#333" stroke-width="0.6"/>
<text class="s" font-size="5.5" fill="#1c1c1c" stroke="#1c1c1c" stroke-width="0.1" transform="translate(288.3 173.0) scale(0.93 1)">0.2</text>
<line x1="286.4" y1="198.9" x2="284.4" y2="198.9" stroke="#333" stroke-width="0.6"/>
<text class="s" font-size="5.5" fill="#1c1c1c" stroke="#1c1c1c" stroke-width="0.1" transform="translate(288.3 200.8) scale(0.93 1)">-1.7</text>
<path d="M203.3 198.9v-1.6M203.3 115.2v1.6M211.6 198.9v-1.6M211.6 115.2v1.6M220.0 198.9v-1.6M220.0 115.2v1.6M228.4 198.9v-1.6M228.4 115.2v1.6M236.7 198.9v-1.6M236.7 115.2v1.6M245.1 198.9v-1.6M245.1 115.2v1.6M253.4 198.9v-1.6M253.4 115.2v1.6M261.8 198.9v-1.6M261.8 115.2v1.6M270.2 198.9v-1.6M270.2 115.2v1.6M278.5 198.9v-1.6M278.5 115.2v1.6" stroke="#333" stroke-width="0.5"/>
<text class="s" font-size="5.9" text-anchor="end" fill="#1c1c1c" stroke="#1c1c1c" stroke-width="0.1" transform="translate(205.3 203.5) rotate(-45) scale(0.93 1)" dy="1.7">237.3</text>
<text class="s" font-size="5.9" text-anchor="end" fill="#1c1c1c" stroke="#1c1c1c" stroke-width="0.1" transform="translate(222.0 203.5) rotate(-45) scale(0.93 1)" dy="1.7">250.5</text>
<text class="s" font-size="5.9" text-anchor="end" fill="#1c1c1c" stroke="#1c1c1c" stroke-width="0.1" transform="translate(238.7 203.5) rotate(-45) scale(0.93 1)" dy="1.7">263.7</text>
<text class="s" font-size="5.9" text-anchor="end" fill="#1c1c1c" stroke="#1c1c1c" stroke-width="0.1" transform="translate(255.4 203.5) rotate(-45) scale(0.93 1)" dy="1.7">276.9</text>
<text class="s" font-size="5.9" text-anchor="end" fill="#1c1c1c" stroke="#1c1c1c" stroke-width="0.1" transform="translate(272.2 203.5) rotate(-45) scale(0.93 1)" dy="1.7">290.1</text>
<text x="240.4" y="218.4" class="s" font-size="6" text-anchor="middle" fill="#1c1c1c" stroke="#1c1c1c" stroke-width="0.08">Winter Temp. (K)</text>
<text class="s" font-size="12.6" fill="#111" transform="translate(201.0 135.4) scale(1.04 0.92)">(e)</text>

</g>
<g>
<rect x="324.10" y="188.2" width="8.36" height="13.3" fill="#aed5e9" stroke="#9345b3" stroke-opacity="0.55" stroke-width="0.72"/>
<rect x="332.46" y="170.3" width="8.36" height="31.2" fill="#aed5e9" stroke="#9345b3" stroke-opacity="0.55" stroke-width="0.72"/>
<rect x="340.82" y="155.3" width="8.36" height="46.2" fill="#aed5e9" stroke="#9345b3" stroke-opacity="0.55" stroke-width="0.72"/>
<rect x="349.18" y="148.4" width="8.36" height="53.1" fill="#aed5e9" stroke="#9345b3" stroke-opacity="0.55" stroke-width="0.72"/>
<rect x="357.54" y="144.3" width="8.36" height="57.2" fill="#aed5e9" stroke="#9345b3" stroke-opacity="0.55" stroke-width="0.72"/>
<rect x="365.90" y="143.3" width="8.36" height="58.2" fill="#aed5e9" stroke="#9345b3" stroke-opacity="0.55" stroke-width="0.72"/>
<rect x="374.26" y="144.9" width="8.36" height="56.6" fill="#aed5e9" stroke="#9345b3" stroke-opacity="0.55" stroke-width="0.72"/>
<rect x="382.62" y="148.0" width="8.36" height="53.5" fill="#aed5e9" stroke="#9345b3" stroke-opacity="0.55" stroke-width="0.72"/>
<rect x="390.98" y="156.6" width="8.36" height="44.9" fill="#aed5e9" stroke="#9345b3" stroke-opacity="0.55" stroke-width="0.72"/>
<rect x="399.34" y="183.5" width="8.36" height="18.0" fill="#aed5e9" stroke="#9345b3" stroke-opacity="0.55" stroke-width="0.72"/>
<polygon points="329.0,189.9 361.9,189.9 370.5,179.6 378.7,132.0 386.9,138.2 395.0,123.0 403.2,123.0 403.2,142.0 395.0,142.0 386.9,152.1 378.7,143.3 370.5,182.6 361.9,191.1 329.0,191.1" fill="#6a6a6a" fill-opacity="0.42"/>
<polyline points="329.0,190.5 361.9,190.5 370.5,181.1 378.7,138.2 386.9,144.7 395.0,132.5 403.2,132.5" fill="none" stroke="#1e1e1e" stroke-width="0.5" stroke-linejoin="round"/>
<path d="M320.4 115.2H411.4V201.5" fill="none" stroke="#858585" stroke-width="0.8"/>
<path d="M320.4 201.5H411.4" fill="none" stroke="#4a4a4a" stroke-width="0.6"/>
<line x1="320.4" y1="115.2" x2="320.4" y2="201.5" stroke="#c6afdb" stroke-width="1.4"/>
<line x1="320.4" y1="116.1" x2="322.4" y2="116.1" stroke="#6d2c9c" stroke-width="0.6"/>
<text class="s" font-size="5.5" text-anchor="end" fill="#6d2c9c" stroke="#6d2c9c" stroke-width="0.12" transform="translate(318.4 119.1) scale(0.93 1)">10<tspan dy="-2.1" font-size="3.6">1</tspan></text>
<line x1="320.4" y1="133.2" x2="322.4" y2="133.2" stroke="#6d2c9c" stroke-width="0.6"/>
<text class="s" font-size="5.5" text-anchor="end" fill="#6d2c9c" stroke="#6d2c9c" stroke-width="0.12" transform="translate(318.4 136.2) scale(0.93 1)">10<tspan dy="-2.1" font-size="3.6">0</tspan></text>
<line x1="320.4" y1="150.3" x2="322.4" y2="150.3" stroke="#6d2c9c" stroke-width="0.6"/>
<text class="s" font-size="5.5" text-anchor="end" fill="#6d2c9c" stroke="#6d2c9c" stroke-width="0.12" transform="translate(318.4 153.3) scale(0.93 1)">10<tspan dy="-2.1" font-size="3.6">-1</tspan></text>
<line x1="320.4" y1="167.3" x2="322.4" y2="167.3" stroke="#6d2c9c" stroke-width="0.6"/>
<text class="s" font-size="5.5" text-anchor="end" fill="#6d2c9c" stroke="#6d2c9c" stroke-width="0.12" transform="translate(318.4 170.3) scale(0.93 1)">10<tspan dy="-2.1" font-size="3.6">-2</tspan></text>
<line x1="320.4" y1="184.4" x2="322.4" y2="184.4" stroke="#6d2c9c" stroke-width="0.6"/>
<text class="s" font-size="5.5" text-anchor="end" fill="#6d2c9c" stroke="#6d2c9c" stroke-width="0.12" transform="translate(318.4 187.4) scale(0.93 1)">10<tspan dy="-2.1" font-size="3.6">-3</tspan></text>
<line x1="320.4" y1="201.5" x2="322.4" y2="201.5" stroke="#6d2c9c" stroke-width="0.6"/>
<text class="s" font-size="5.5" text-anchor="end" fill="#6d2c9c" stroke="#6d2c9c" stroke-width="0.12" transform="translate(318.4 204.5) scale(0.93 1)">10<tspan dy="-2.1" font-size="3.6">-4</tspan></text>
<path d="M320.4 128.04h1.1M320.4 125.03h1.1M320.4 122.90h1.1M320.4 121.24h1.1M320.4 119.89h1.1M320.4 118.75h1.1M320.4 117.76h1.1M320.4 116.88h1.1M320.4 145.12h1.1M320.4 142.11h1.1M320.4 139.98h1.1M320.4 138.32h1.1M320.4 136.97h1.1M320.4 135.83h1.1M320.4 134.84h1.1M320.4 133.96h1.1M320.4 162.20h1.1M320.4 159.19h1.1M320.4 157.06h1.1M320.4 155.40h1.1M320.4 154.05h1.1M320.4 152.91h1.1M320.4 151.92h1.1M320.4 151.04h1.1M320.4 179.28h1.1M320.4 176.27h1.1M320.4 174.14h1.1M320.4 172.48h1.1M320.4 171.13h1.1M320.4 169.99h1.1M320.4 169.00h1.1M320.4 168.12h1.1M320.4 196.36h1.1M320.4 193.35h1.1M320.4 191.22h1.1M320.4 189.56h1.1M320.4 188.21h1.1M320.4 187.07h1.1M320.4 186.08h1.1M320.4 185.20h1.1" stroke="#6d2c9c" stroke-width="0.45" opacity="0.8"/>
<line x1="411.4" y1="115.2" x2="409.4" y2="115.2" stroke="#333" stroke-width="0.6"/>
<text class="s" font-size="5.5" fill="#1c1c1c" stroke="#1c1c1c" stroke-width="0.1" transform="translate(413.3 117.2) scale(0.93 1)">3.9</text>
<line x1="411.4" y1="144.3" x2="409.4" y2="144.3" stroke="#333" stroke-width="0.6"/>
<text class="s" font-size="5.5" fill="#1c1c1c" stroke="#1c1c1c" stroke-width="0.1" transform="translate(413.3 146.2) scale(0.93 1)">2.4</text>
<line x1="411.4" y1="172.9" x2="409.4" y2="172.9" stroke="#333" stroke-width="0.6"/>
<text class="s" font-size="5.5" fill="#1c1c1c" stroke="#1c1c1c" stroke-width="0.1" transform="translate(413.3 174.8) scale(0.93 1)">0.9</text>
<line x1="411.4" y1="201.5" x2="409.4" y2="201.5" stroke="#333" stroke-width="0.6"/>
<text class="s" font-size="5.5" fill="#1c1c1c" stroke="#1c1c1c" stroke-width="0.1" transform="translate(413.3 203.4) scale(0.93 1)">-0.6</text>
<path d="M328.3 201.5v-1.6M328.3 115.2v1.6M336.6 201.5v-1.6M336.6 115.2v1.6M345.0 201.5v-1.6M345.0 115.2v1.6M353.4 201.5v-1.6M353.4 115.2v1.6M361.7 201.5v-1.6M361.7 115.2v1.6M370.1 201.5v-1.6M370.1 115.2v1.6M378.4 201.5v-1.6M378.4 115.2v1.6M386.8 201.5v-1.6M386.8 115.2v1.6M395.2 201.5v-1.6M395.2 115.2v1.6M403.5 201.5v-1.6M403.5 115.2v1.6" stroke="#333" stroke-width="0.5"/>
<text class="s" font-size="5.9" text-anchor="end" fill="#1c1c1c" stroke="#1c1c1c" stroke-width="0.1" transform="translate(330.3 206.1) rotate(-45) scale(0.93 1)" dy="1.7">248</text>
<text class="s" font-size="5.9" text-anchor="end" fill="#1c1c1c" stroke="#1c1c1c" stroke-width="0.1" transform="translate(347.0 206.1) rotate(-45) scale(0.93 1)" dy="1.7">260</text>
<text class="s" font-size="5.9" text-anchor="end" fill="#1c1c1c" stroke="#1c1c1c" stroke-width="0.1" transform="translate(363.7 206.1) rotate(-45) scale(0.93 1)" dy="1.7">272</text>
<text class="s" font-size="5.9" text-anchor="end" fill="#1c1c1c" stroke="#1c1c1c" stroke-width="0.1" transform="translate(380.4 206.1) rotate(-45) scale(0.93 1)" dy="1.7">284</text>
<text class="s" font-size="5.9" text-anchor="end" fill="#1c1c1c" stroke="#1c1c1c" stroke-width="0.1" transform="translate(397.2 206.1) rotate(-45) scale(0.93 1)" dy="1.7">296</text>
<text x="365.8" y="218.4" class="s" font-size="6" text-anchor="middle" fill="#1c1c1c" stroke="#1c1c1c" stroke-width="0.08">Spring Temp. (K)</text>
<text class="s" font-size="12.6" fill="#111" transform="translate(327.5 135.4) scale(1.04 0.92)">(f)</text>

</g>
<g>
<rect x="449.90" y="195.4" width="8.30" height="1.4" fill="#719fcc" stroke="#9345b3" stroke-opacity="0.55" stroke-width="0.72"/>
<rect x="458.20" y="173.9" width="8.30" height="22.9" fill="#719fcc" stroke="#9345b3" stroke-opacity="0.55" stroke-width="0.72"/>
<rect x="466.50" y="159.6" width="8.30" height="37.2" fill="#719fcc" stroke="#9345b3" stroke-opacity="0.55" stroke-width="0.72"/>
<rect x="474.80" y="155.5" width="8.30" height="41.3" fill="#719fcc" stroke="#9345b3" stroke-opacity="0.55" stroke-width="0.72"/>
<rect x="483.10" y="151.9" width="8.30" height="44.9" fill="#719fcc" stroke="#9345b3" stroke-opacity="0.55" stroke-width="0.72"/>
<rect x="491.40" y="152.1" width="8.30" height="44.7" fill="#719fcc" stroke="#9345b3" stroke-opacity="0.55" stroke-width="0.72"/>
<rect x="499.70" y="149.0" width="8.30" height="47.8" fill="#719fcc" stroke="#9345b3" stroke-opacity="0.55" stroke-width="0.72"/>
<rect x="508.00" y="150.0" width="8.30" height="46.8" fill="#719fcc" stroke="#9345b3" stroke-opacity="0.55" stroke-width="0.72"/>
<rect x="516.30" y="160.0" width="8.30" height="36.8" fill="#719fcc" stroke="#9345b3" stroke-opacity="0.55" stroke-width="0.72"/>
<rect x="524.60" y="179.0" width="8.30" height="17.8" fill="#719fcc" stroke="#9345b3" stroke-opacity="0.55" stroke-width="0.72"/>
<polygon points="454.2,155.6 491.4,156.0 495.5,156.8 504.1,177.5 512.3,124.4 520.6,128.5 528.8,128.5 528.8,154.0 520.6,153.0 512.3,148.9 504.1,182.0 495.5,158.4 491.4,157.2 454.2,156.8" fill="#6a6a6a" fill-opacity="0.42"/>
<polyline points="454.2,156.2 491.4,156.6 495.5,157.6 504.1,180.1 512.3,136.1 520.6,141.2 528.8,141.2" fill="none" stroke="#1e1e1e" stroke-width="0.5" stroke-linejoin="round"/>
<path d="M445.8 115.2H537.0V196.8" fill="none" stroke="#858585" stroke-width="0.8"/>
<path d="M445.8 196.8H537.0" fill="none" stroke="#4a4a4a" stroke-width="0.6"/>
<line x1="445.8" y1="115.2" x2="445.8" y2="196.8" stroke="#c6afdb" stroke-width="1.4"/>
<line x1="445.8" y1="115.2" x2="447.8" y2="115.2" stroke="#6d2c9c" stroke-width="0.6"/>
<text class="s" font-size="5.5" text-anchor="end" fill="#6d2c9c" stroke="#6d2c9c" stroke-width="0.12" transform="translate(443.8 118.2) scale(0.93 1)">10<tspan dy="-2.1" font-size="3.6">1</tspan></text>
<line x1="445.8" y1="135.6" x2="447.8" y2="135.6" stroke="#6d2c9c" stroke-width="0.6"/>
<text class="s" font-size="5.5" text-anchor="end" fill="#6d2c9c" stroke="#6d2c9c" stroke-width="0.12" transform="translate(443.8 138.6) scale(0.93 1)">10<tspan dy="-2.1" font-size="3.6">0</tspan></text>
<line x1="445.8" y1="156.0" x2="447.8" y2="156.0" stroke="#6d2c9c" stroke-width="0.6"/>
<text class="s" font-size="5.5" text-anchor="end" fill="#6d2c9c" stroke="#6d2c9c" stroke-width="0.12" transform="translate(443.8 159.0) scale(0.93 1)">10<tspan dy="-2.1" font-size="3.6">-1</tspan></text>
<line x1="445.8" y1="176.4" x2="447.8" y2="176.4" stroke="#6d2c9c" stroke-width="0.6"/>
<text class="s" font-size="5.5" text-anchor="end" fill="#6d2c9c" stroke="#6d2c9c" stroke-width="0.12" transform="translate(443.8 179.4) scale(0.93 1)">10<tspan dy="-2.1" font-size="3.6">-2</tspan></text>
<line x1="445.8" y1="196.8" x2="447.8" y2="196.8" stroke="#6d2c9c" stroke-width="0.6"/>
<text class="s" font-size="5.5" text-anchor="end" fill="#6d2c9c" stroke="#6d2c9c" stroke-width="0.12" transform="translate(443.8 199.8) scale(0.93 1)">10<tspan dy="-2.1" font-size="3.6">-3</tspan></text>
<path d="M445.8 129.46h1.1M445.8 125.87h1.1M445.8 123.32h1.1M445.8 121.34h1.1M445.8 119.73h1.1M445.8 118.36h1.1M445.8 117.18h1.1M445.8 116.13h1.1M445.8 149.86h1.1M445.8 146.27h1.1M445.8 143.72h1.1M445.8 141.74h1.1M445.8 140.13h1.1M445.8 138.76h1.1M445.8 137.58h1.1M445.8 136.53h1.1M445.8 170.26h1.1M445.8 166.67h1.1M445.8 164.12h1.1M445.8 162.14h1.1M445.8 160.53h1.1M445.8 159.16h1.1M445.8 157.98h1.1M445.8 156.93h1.1M445.8 190.66h1.1M445.8 187.07h1.1M445.8 184.52h1.1M445.8 182.54h1.1M445.8 180.93h1.1M445.8 179.56h1.1M445.8 178.38h1.1M445.8 177.33h1.1" stroke="#6d2c9c" stroke-width="0.45" opacity="0.8"/>
<line x1="537.0" y1="115.2" x2="535.0" y2="115.2" stroke="#333" stroke-width="0.6"/>
<text class="s" font-size="5.5" fill="#1c1c1c" stroke="#1c1c1c" stroke-width="0.1" transform="translate(538.9 117.2) scale(0.93 1)">1.7</text>
<line x1="537.0" y1="142.7" x2="535.0" y2="142.7" stroke="#333" stroke-width="0.6"/>
<text class="s" font-size="5.5" fill="#1c1c1c" stroke="#1c1c1c" stroke-width="0.1" transform="translate(538.9 144.6) scale(0.93 1)">0.5</text>
<line x1="537.0" y1="169.9" x2="535.0" y2="169.9" stroke="#333" stroke-width="0.6"/>
<text class="s" font-size="5.5" fill="#1c1c1c" stroke="#1c1c1c" stroke-width="0.1" transform="translate(538.9 171.8) scale(0.93 1)">-0.5</text>
<line x1="537.0" y1="196.8" x2="535.0" y2="196.8" stroke="#333" stroke-width="0.6"/>
<text class="s" font-size="5.5" fill="#1c1c1c" stroke="#1c1c1c" stroke-width="0.1" transform="translate(538.9 198.8) scale(0.93 1)">-1.7</text>
<path d="M454.0 196.8v-1.6M454.0 115.2v1.6M462.3 196.8v-1.6M462.3 115.2v1.6M470.6 196.8v-1.6M470.6 115.2v1.6M478.9 196.8v-1.6M478.9 115.2v1.6M487.2 196.8v-1.6M487.2 115.2v1.6M495.5 196.8v-1.6M495.5 115.2v1.6M503.8 196.8v-1.6M503.8 115.2v1.6M512.1 196.8v-1.6M512.1 115.2v1.6M520.5 196.8v-1.6M520.5 115.2v1.6M528.8 196.8v-1.6M528.8 115.2v1.6" stroke="#333" stroke-width="0.5"/>
<text class="s" font-size="5.9" text-anchor="end" fill="#1c1c1c" stroke="#1c1c1c" stroke-width="0.1" transform="translate(456.0 201.4) rotate(-45) scale(0.93 1)" dy="1.7">262.45</text>
<text class="s" font-size="5.9" text-anchor="end" fill="#1c1c1c" stroke="#1c1c1c" stroke-width="0.1" transform="translate(472.6 201.4) rotate(-45) scale(0.93 1)" dy="1.7">272.25</text>
<text class="s" font-size="5.9" text-anchor="end" fill="#1c1c1c" stroke="#1c1c1c" stroke-width="0.1" transform="translate(489.2 201.4) rotate(-45) scale(0.93 1)" dy="1.7">282.05</text>
<text class="s" font-size="5.9" text-anchor="end" fill="#1c1c1c" stroke="#1c1c1c" stroke-width="0.1" transform="translate(505.8 201.4) rotate(-45) scale(0.93 1)" dy="1.7">291.85</text>
<text class="s" font-size="5.9" text-anchor="end" fill="#1c1c1c" stroke="#1c1c1c" stroke-width="0.1" transform="translate(522.5 201.4) rotate(-45) scale(0.93 1)" dy="1.7">301.65</text>
<text x="491.5" y="218.9" class="s" font-size="6" text-anchor="middle" fill="#1c1c1c" stroke="#1c1c1c" stroke-width="0.08">Summer Temp.(K)</text>
<text class="s" font-size="12.6" fill="#111" transform="translate(453.6 135.4) scale(1.04 0.92)">(g)</text>

</g>
<g>
<rect x="575.20" y="189.9" width="8.35" height="6.9" fill="#9db5cc" stroke="#9345b3" stroke-opacity="0.55" stroke-width="0.72"/>
<rect x="583.55" y="170.5" width="8.35" height="26.3" fill="#9db5cc" stroke="#9345b3" stroke-opacity="0.55" stroke-width="0.72"/>
<rect x="591.90" y="154.5" width="8.35" height="42.3" fill="#9db5cc" stroke="#9345b3" stroke-opacity="0.55" stroke-width="0.72"/>
<rect x="600.25" y="147.0" width="8.35" height="49.8" fill="#9db5cc" stroke="#9345b3" stroke-opacity="0.55" stroke-width="0.72"/>
<rect x="608.60" y="141.2" width="8.35" height="55.6" fill="#9db5cc" stroke="#9345b3" stroke-opacity="0.55" stroke-width="0.72"/>
<rect x="616.95" y="141.2" width="8.35" height="55.6" fill="#9db5cc" stroke="#9345b3" stroke-opacity="0.55" stroke-width="0.72"/>
<rect x="625.30" y="143.3" width="8.35" height="53.5" fill="#9db5cc" stroke="#9345b3" stroke-opacity="0.55" stroke-width="0.72"/>
<rect x="633.65" y="147.0" width="8.35" height="49.8" fill="#9db5cc" stroke="#9345b3" stroke-opacity="0.55" stroke-width="0.72"/>
<rect x="642.00" y="154.9" width="8.35" height="41.9" fill="#9db5cc" stroke="#9345b3" stroke-opacity="0.55" stroke-width="0.72"/>
<rect x="650.35" y="177.4" width="8.35" height="19.4" fill="#9db5cc" stroke="#9345b3" stroke-opacity="0.55" stroke-width="0.72"/>
<polygon points="579.7,185.6 614.5,185.4 621.2,180.1 629.4,131.0 637.6,158.6 646.2,139.2 654.3,144.3 654.3,165.8 646.2,160.7 637.6,181.1 629.4,146.4 621.2,188.3 614.5,187.0 579.7,186.8" fill="#6a6a6a" fill-opacity="0.42"/>
<polyline points="579.7,186.2 614.5,186.2 621.2,183.5 629.4,142.3 637.6,170.9 646.2,151.1 654.3,154.9" fill="none" stroke="#1e1e1e" stroke-width="0.5" stroke-linejoin="round"/>
<path d="M571.6 115.2H662.7V196.8" fill="none" stroke="#858585" stroke-width="0.8"/>
<path d="M571.6 196.8H662.7" fill="none" stroke="#4a4a4a" stroke-width="0.6"/>
<line x1="571.6" y1="115.2" x2="571.6" y2="196.8" stroke="#c6afdb" stroke-width="1.4"/>
<line x1="571.6" y1="115.2" x2="573.6" y2="115.2" stroke="#6d2c9c" stroke-width="0.6"/>
<text class="s" font-size="5.5" text-anchor="end" fill="#6d2c9c" stroke="#6d2c9c" stroke-width="0.12" transform="translate(569.6 118.2) scale(0.93 1)">10<tspan dy="-2.1" font-size="3.6">1</tspan></text>
<line x1="571.6" y1="131.5" x2="573.6" y2="131.5" stroke="#6d2c9c" stroke-width="0.6"/>
<text class="s" font-size="5.5" text-anchor="end" fill="#6d2c9c" stroke="#6d2c9c" stroke-width="0.12" transform="translate(569.6 134.5) scale(0.93 1)">10<tspan dy="-2.1" font-size="3.6">0</tspan></text>
<line x1="571.6" y1="147.8" x2="573.6" y2="147.8" stroke="#6d2c9c" stroke-width="0.6"/>
<text class="s" font-size="5.5" text-anchor="end" fill="#6d2c9c" stroke="#6d2c9c" stroke-width="0.12" transform="translate(569.6 150.8) scale(0.93 1)">10<tspan dy="-2.1" font-size="3.6">-1</tspan></text>
<line x1="571.6" y1="164.2" x2="573.6" y2="164.2" stroke="#6d2c9c" stroke-width="0.6"/>
<text class="s" font-size="5.5" text-anchor="end" fill="#6d2c9c" stroke="#6d2c9c" stroke-width="0.12" transform="translate(569.6 167.2) scale(0.93 1)">10<tspan dy="-2.1" font-size="3.6">-2</tspan></text>
<line x1="571.6" y1="180.5" x2="573.6" y2="180.5" stroke="#6d2c9c" stroke-width="0.6"/>
<text class="s" font-size="5.5" text-anchor="end" fill="#6d2c9c" stroke="#6d2c9c" stroke-width="0.12" transform="translate(569.6 183.5) scale(0.93 1)">10<tspan dy="-2.1" font-size="3.6">-3</tspan></text>
<line x1="571.6" y1="196.8" x2="573.6" y2="196.8" stroke="#6d2c9c" stroke-width="0.6"/>
<text class="s" font-size="5.5" text-anchor="end" fill="#6d2c9c" stroke="#6d2c9c" stroke-width="0.12" transform="translate(569.6 199.8) scale(0.93 1)">10<tspan dy="-2.1" font-size="3.6">-4</tspan></text>
<path d="M571.6 126.61h1.1M571.6 123.73h1.1M571.6 121.69h1.1M571.6 120.11h1.1M571.6 118.82h1.1M571.6 117.73h1.1M571.6 116.78h1.1M571.6 115.95h1.1M571.6 142.93h1.1M571.6 140.05h1.1M571.6 138.01h1.1M571.6 136.43h1.1M571.6 135.14h1.1M571.6 134.05h1.1M571.6 133.10h1.1M571.6 132.27h1.1M571.6 159.25h1.1M571.6 156.37h1.1M571.6 154.33h1.1M571.6 152.75h1.1M571.6 151.46h1.1M571.6 150.37h1.1M571.6 149.42h1.1M571.6 148.59h1.1M571.6 175.57h1.1M571.6 172.69h1.1M571.6 170.65h1.1M571.6 169.07h1.1M571.6 167.78h1.1M571.6 166.69h1.1M571.6 165.74h1.1M571.6 164.91h1.1M571.6 191.89h1.1M571.6 189.01h1.1M571.6 186.97h1.1M571.6 185.39h1.1M571.6 184.10h1.1M571.6 183.01h1.1M571.6 182.06h1.1M571.6 181.23h1.1" stroke="#6d2c9c" stroke-width="0.45" opacity="0.8"/>
<line x1="662.7" y1="115.2" x2="660.7" y2="115.2" stroke="#333" stroke-width="0.6"/>
<text class="s" font-size="5.5" fill="#1c1c1c" stroke="#1c1c1c" stroke-width="0.1" transform="translate(664.6 117.2) scale(0.93 1)">1.5</text>
<line x1="662.7" y1="142.7" x2="660.7" y2="142.7" stroke="#333" stroke-width="0.6"/>
<text class="s" font-size="5.5" fill="#1c1c1c" stroke="#1c1c1c" stroke-width="0.1" transform="translate(664.6 144.6) scale(0.93 1)">1.0</text>
<line x1="662.7" y1="169.9" x2="660.7" y2="169.9" stroke="#333" stroke-width="0.6"/>
<text class="s" font-size="5.5" fill="#1c1c1c" stroke="#1c1c1c" stroke-width="0.1" transform="translate(664.6 171.8) scale(0.93 1)">0.4</text>
<line x1="662.7" y1="196.8" x2="660.7" y2="196.8" stroke="#333" stroke-width="0.6"/>
<text class="s" font-size="5.5" fill="#1c1c1c" stroke="#1c1c1c" stroke-width="0.1" transform="translate(664.6 198.8) scale(0.93 1)">-0.2</text>
<path d="M579.4 196.8v-1.6M579.4 115.2v1.6M587.7 196.8v-1.6M587.7 115.2v1.6M596.1 196.8v-1.6M596.1 115.2v1.6M604.4 196.8v-1.6M604.4 115.2v1.6M612.8 196.8v-1.6M612.8 115.2v1.6M621.1 196.8v-1.6M621.1 115.2v1.6M629.5 196.8v-1.6M629.5 115.2v1.6M637.8 196.8v-1.6M637.8 115.2v1.6M646.2 196.8v-1.6M646.2 115.2v1.6M654.5 196.8v-1.6M654.5 115.2v1.6" stroke="#333" stroke-width="0.5"/>
<text class="s" font-size="5.9" text-anchor="end" fill="#1c1c1c" stroke="#1c1c1c" stroke-width="0.1" transform="translate(581.4 201.4) rotate(-45) scale(0.93 1)" dy="1.7">247.95</text>
<text class="s" font-size="5.9" text-anchor="end" fill="#1c1c1c" stroke="#1c1c1c" stroke-width="0.1" transform="translate(598.1 201.4) rotate(-45) scale(0.93 1)" dy="1.7">259.75</text>
<text class="s" font-size="5.9" text-anchor="end" fill="#1c1c1c" stroke="#1c1c1c" stroke-width="0.1" transform="translate(614.8 201.4) rotate(-45) scale(0.93 1)" dy="1.7">271.55</text>
<text class="s" font-size="5.9" text-anchor="end" fill="#1c1c1c" stroke="#1c1c1c" stroke-width="0.1" transform="translate(631.5 201.4) rotate(-45) scale(0.93 1)" dy="1.7">283.35</text>
<text class="s" font-size="5.9" text-anchor="end" fill="#1c1c1c" stroke="#1c1c1c" stroke-width="0.1" transform="translate(648.2 201.4) rotate(-45) scale(0.93 1)" dy="1.7">295.15</text>
<text x="617.0" y="218.9" class="s" font-size="6" text-anchor="middle" fill="#1c1c1c" stroke="#1c1c1c" stroke-width="0.08">Autumn Temp. (K)</text>
<text class="s" font-size="12.6" fill="#111" transform="translate(580.4 135.0) scale(1.04 0.92)">(h)</text>

</g>
<g>
<rect x="199.10" y="241.2" width="8.36" height="68.6" fill="#f6e7dc" stroke="#9345b3" stroke-opacity="0.55" stroke-width="0.72"/>
<rect x="207.46" y="255.3" width="8.36" height="54.5" fill="#f6e7dc" stroke="#9345b3" stroke-opacity="0.55" stroke-width="0.72"/>
<rect x="215.82" y="260.4" width="8.36" height="49.4" fill="#f6e7dc" stroke="#9345b3" stroke-opacity="0.55" stroke-width="0.72"/>
<rect x="224.18" y="265.2" width="8.36" height="44.6" fill="#f6e7dc" stroke="#9345b3" stroke-opacity="0.55" stroke-width="0.72"/>
<rect x="232.54" y="269.1" width="8.36" height="40.7" fill="#f6e7dc" stroke="#9345b3" stroke-opacity="0.55" stroke-width="0.72"/>
<rect x="240.90" y="274.2" width="8.36" height="35.6" fill="#f6e7dc" stroke="#9345b3" stroke-opacity="0.55" stroke-width="0.72"/>
<rect x="249.26" y="280.4" width="8.36" height="29.4" fill="#f6e7dc" stroke="#9345b3" stroke-opacity="0.55" stroke-width="0.72"/>
<rect x="257.62" y="289.3" width="8.36" height="20.5" fill="#f6e7dc" stroke="#9345b3" stroke-opacity="0.55" stroke-width="0.72"/>
<rect x="265.98" y="303.2" width="8.36" height="6.6" fill="#f6e7dc" stroke="#9345b3" stroke-opacity="0.55" stroke-width="0.72"/>
<rect x="274.34" y="300.6" width="8.36" height="9.2" fill="#f6e7dc" stroke="#9345b3" stroke-opacity="0.55" stroke-width="0.72"/>
<polygon points="203.6,271.2 211.8,253.8 220.4,244.6 236.3,234.0 253.7,229.9 277.8,229.9 277.8,257.5 253.7,257.5 236.3,261.6 220.4,268.1 211.8,280.4 203.6,296.7" fill="#6a6a6a" fill-opacity="0.42"/>
<polyline points="203.6,284.5 211.8,267.1 220.4,255.9 236.3,246.7 245.5,245.7 253.7,243.2 277.8,243.2" fill="none" stroke="#1e1e1e" stroke-width="0.5" stroke-linejoin="round"/>
<path d="M195.0 226.2H286.4V309.8" fill="none" stroke="#858585" stroke-width="0.8"/>
<path d="M195.0 309.8H286.4" fill="none" stroke="#4a4a4a" stroke-width="0.6"/>
<line x1="195.0" y1="226.2" x2="195.0" y2="309.8" stroke="#c6afdb" stroke-width="1.4"/>
<line x1="195.0" y1="226.2" x2="197.0" y2="226.2" stroke="#6d2c9c" stroke-width="0.6"/>
<text class="s" font-size="5.5" text-anchor="end" fill="#6d2c9c" stroke="#6d2c9c" stroke-width="0.12" transform="translate(193.0 229.2) scale(0.93 1)">10<tspan dy="-2.1" font-size="3.6">1</tspan></text>
<line x1="195.0" y1="240.1" x2="197.0" y2="240.1" stroke="#6d2c9c" stroke-width="0.6"/>
<text class="s" font-size="5.5" text-anchor="end" fill="#6d2c9c" stroke="#6d2c9c" stroke-width="0.12" transform="translate(193.0 243.1) scale(0.93 1)">10<tspan dy="-2.1" font-size="3.6">0</tspan></text>
<line x1="195.0" y1="254.1" x2="197.0" y2="254.1" stroke="#6d2c9c" stroke-width="0.6"/>
<text class="s" font-size="5.5" text-anchor="end" fill="#6d2c9c" stroke="#6d2c9c" stroke-width="0.12" transform="translate(193.0 257.1) scale(0.93 1)">10<tspan dy="-2.1" font-size="3.6">-1</tspan></text>
<line x1="195.0" y1="268.0" x2="197.0" y2="268.0" stroke="#6d2c9c" stroke-width="0.6"/>
<text class="s" font-size="5.5" text-anchor="end" fill="#6d2c9c" stroke="#6d2c9c" stroke-width="0.12" transform="translate(193.0 271.0) scale(0.93 1)">10<tspan dy="-2.1" font-size="3.6">-2</tspan></text>
<line x1="195.0" y1="281.9" x2="197.0" y2="281.9" stroke="#6d2c9c" stroke-width="0.6"/>
<text class="s" font-size="5.5" text-anchor="end" fill="#6d2c9c" stroke="#6d2c9c" stroke-width="0.12" transform="translate(193.0 284.9) scale(0.93 1)">10<tspan dy="-2.1" font-size="3.6">-3</tspan></text>
<line x1="195.0" y1="295.9" x2="197.0" y2="295.9" stroke="#6d2c9c" stroke-width="0.6"/>
<text class="s" font-size="5.5" text-anchor="end" fill="#6d2c9c" stroke="#6d2c9c" stroke-width="0.12" transform="translate(193.0 298.9) scale(0.93 1)">10<tspan dy="-2.1" font-size="3.6">-4</tspan></text>
<line x1="195.0" y1="309.8" x2="197.0" y2="309.8" stroke="#6d2c9c" stroke-width="0.6"/>
<text class="s" font-size="5.5" text-anchor="end" fill="#6d2c9c" stroke="#6d2c9c" stroke-width="0.12" transform="translate(193.0 312.8) scale(0.93 1)">10<tspan dy="-2.1" font-size="3.6">-5</tspan></text>
<path d="M195.0 235.94h1.1M195.0 233.48h1.1M195.0 231.74h1.1M195.0 230.39h1.1M195.0 229.29h1.1M195.0 228.36h1.1M195.0 227.55h1.1M195.0 226.84h1.1M195.0 249.87h1.1M195.0 247.41h1.1M195.0 245.67h1.1M195.0 244.32h1.1M195.0 243.22h1.1M195.0 242.29h1.1M195.0 241.48h1.1M195.0 240.77h1.1M195.0 263.80h1.1M195.0 261.34h1.1M195.0 259.60h1.1M195.0 258.25h1.1M195.0 257.15h1.1M195.0 256.22h1.1M195.0 255.41h1.1M195.0 254.70h1.1M195.0 277.73h1.1M195.0 275.27h1.1M195.0 273.53h1.1M195.0 272.18h1.1M195.0 271.08h1.1M195.0 270.15h1.1M195.0 269.34h1.1M195.0 268.63h1.1M195.0 291.66h1.1M195.0 289.20h1.1M195.0 287.46h1.1M195.0 286.11h1.1M195.0 285.01h1.1M195.0 284.08h1.1M195.0 283.27h1.1M195.0 282.56h1.1M195.0 305.59h1.1M195.0 303.13h1.1M195.0 301.39h1.1M195.0 300.04h1.1M195.0 298.94h1.1M195.0 298.01h1.1M195.0 297.20h1.1M195.0 296.49h1.1" stroke="#6d2c9c" stroke-width="0.45" opacity="0.8"/>
<line x1="286.4" y1="226.2" x2="284.4" y2="226.2" stroke="#333" stroke-width="0.6"/>
<text class="s" font-size="5.5" fill="#1c1c1c" stroke="#1c1c1c" stroke-width="0.1" transform="translate(288.3 228.1) scale(0.93 1)">-0.5</text>
<line x1="286.4" y1="254.2" x2="284.4" y2="254.2" stroke="#333" stroke-width="0.6"/>
<text class="s" font-size="5.5" fill="#1c1c1c" stroke="#1c1c1c" stroke-width="0.1" transform="translate(288.3 256.1) scale(0.93 1)">-1.1</text>
<line x1="286.4" y1="282.2" x2="284.4" y2="282.2" stroke="#333" stroke-width="0.6"/>
<text class="s" font-size="5.5" fill="#1c1c1c" stroke="#1c1c1c" stroke-width="0.1" transform="translate(288.3 284.1) scale(0.93 1)">-1.6</text>
<line x1="286.4" y1="309.8" x2="284.4" y2="309.8" stroke="#333" stroke-width="0.6"/>
<text class="s" font-size="5.5" fill="#1c1c1c" stroke="#1c1c1c" stroke-width="0.1" transform="translate(288.3 311.8) scale(0.93 1)">-2.2</text>
<path d="M203.3 309.8v-1.6M203.3 226.2v1.6M211.6 309.8v-1.6M211.6 226.2v1.6M220.0 309.8v-1.6M220.0 226.2v1.6M228.4 309.8v-1.6M228.4 226.2v1.6M236.7 309.8v-1.6M236.7 226.2v1.6M245.1 309.8v-1.6M245.1 226.2v1.6M253.4 309.8v-1.6M253.4 226.2v1.6M261.8 309.8v-1.6M261.8 226.2v1.6M270.2 309.8v-1.6M270.2 226.2v1.6M278.5 309.8v-1.6M278.5 226.2v1.6" stroke="#333" stroke-width="0.5"/>
<text class="s" font-size="5.9" text-anchor="end" fill="#1c1c1c" stroke="#1c1c1c" stroke-width="0.1" transform="translate(205.3 314.4) rotate(-45) scale(0.93 1)" dy="1.7">35.5</text>
<text class="s" font-size="5.9" text-anchor="end" fill="#1c1c1c" stroke="#1c1c1c" stroke-width="0.1" transform="translate(222.0 314.4) rotate(-45) scale(0.93 1)" dy="1.7">177.5</text>
<text class="s" font-size="5.9" text-anchor="end" fill="#1c1c1c" stroke="#1c1c1c" stroke-width="0.1" transform="translate(238.7 314.4) rotate(-45) scale(0.93 1)" dy="1.7">319.5</text>
<text class="s" font-size="5.9" text-anchor="end" fill="#1c1c1c" stroke="#1c1c1c" stroke-width="0.1" transform="translate(255.4 314.4) rotate(-45) scale(0.93 1)" dy="1.7">461.5</text>
<text class="s" font-size="5.9" text-anchor="end" fill="#1c1c1c" stroke="#1c1c1c" stroke-width="0.1" transform="translate(272.2 314.4) rotate(-45) scale(0.93 1)" dy="1.7">603.5</text>
<text x="240.4" y="330.1" class="s" font-size="6" text-anchor="middle" fill="#1c1c1c" stroke="#1c1c1c" stroke-width="0.08">Winter Prep. (mm)</text>
<text class="s" font-size="12.6" fill="#111" transform="translate(207.7 242.8) scale(1.04 0.92)">(i)</text>

</g>
<g>
<rect x="324.50" y="241.2" width="8.35" height="69.2" fill="#efa4b6" stroke="#9345b3" stroke-opacity="0.55" stroke-width="0.72"/>
<rect x="332.85" y="253.2" width="8.35" height="57.2" fill="#efa4b6" stroke="#9345b3" stroke-opacity="0.55" stroke-width="0.72"/>
<rect x="341.20" y="261.4" width="8.35" height="49.0" fill="#efa4b6" stroke="#9345b3" stroke-opacity="0.55" stroke-width="0.72"/>
<rect x="349.55" y="269.5" width="8.35" height="40.9" fill="#efa4b6" stroke="#9345b3" stroke-opacity="0.55" stroke-width="0.72"/>
<rect x="357.90" y="275.2" width="8.35" height="35.2" fill="#efa4b6" stroke="#9345b3" stroke-opacity="0.55" stroke-width="0.72"/>
<rect x="366.25" y="284.9" width="8.35" height="25.5" fill="#efa4b6" stroke="#9345b3" stroke-opacity="0.55" stroke-width="0.72"/>
<rect x="374.60" y="286.9" width="8.35" height="23.5" fill="#efa4b6" stroke="#9345b3" stroke-opacity="0.55" stroke-width="0.72"/>
<rect x="382.95" y="286.5" width="8.35" height="23.9" fill="#efa4b6" stroke="#9345b3" stroke-opacity="0.55" stroke-width="0.72"/>
<rect x="391.30" y="295.1" width="8.35" height="15.3" fill="#efa4b6" stroke="#9345b3" stroke-opacity="0.55" stroke-width="0.72"/>
<rect x="399.65" y="304.3" width="8.35" height="6.1" fill="#efa4b6" stroke="#9345b3" stroke-opacity="0.55" stroke-width="0.72"/>
<polygon points="329.0,282.4 337.4,250.8 345.4,245.7 354.2,240.5 361.3,239.1 370.5,238.1 378.7,236.1 403.2,236.1 403.2,256.9 378.7,256.9 370.5,258.3 361.3,257.9 354.2,258.3 345.4,266.1 337.4,271.2 329.0,296.7" fill="#6a6a6a" fill-opacity="0.42"/>
<polyline points="329.0,289.6 337.4,261.6 345.4,255.9 354.2,249.3 361.3,248.1 370.5,247.7 378.7,246.3 403.2,246.3" fill="none" stroke="#1e1e1e" stroke-width="0.5" stroke-linejoin="round"/>
<path d="M320.4 226.2H411.4V310.4" fill="none" stroke="#858585" stroke-width="0.8"/>
<path d="M320.4 310.4H411.4" fill="none" stroke="#4a4a4a" stroke-width="0.6"/>
<line x1="320.4" y1="226.2" x2="320.4" y2="310.4" stroke="#c6afdb" stroke-width="1.4"/>
<line x1="320.4" y1="226.2" x2="322.4" y2="226.2" stroke="#6d2c9c" stroke-width="0.6"/>
<text class="s" font-size="5.5" text-anchor="end" fill="#6d2c9c" stroke="#6d2c9c" stroke-width="0.12" transform="translate(318.4 229.2) scale(0.93 1)">10<tspan dy="-2.1" font-size="3.6">1</tspan></text>
<line x1="320.4" y1="240.2" x2="322.4" y2="240.2" stroke="#6d2c9c" stroke-width="0.6"/>
<text class="s" font-size="5.5" text-anchor="end" fill="#6d2c9c" stroke="#6d2c9c" stroke-width="0.12" transform="translate(318.4 243.2) scale(0.93 1)">10<tspan dy="-2.1" font-size="3.6">0</tspan></text>
<line x1="320.4" y1="254.3" x2="322.4" y2="254.3" stroke="#6d2c9c" stroke-width="0.6"/>
<text class="s" font-size="5.5" text-anchor="end" fill="#6d2c9c" stroke="#6d2c9c" stroke-width="0.12" transform="translate(318.4 257.3) scale(0.93 1)">10<tspan dy="-2.1" font-size="3.6">-1</tspan></text>
<line x1="320.4" y1="268.3" x2="322.4" y2="268.3" stroke="#6d2c9c" stroke-width="0.6"/>
<text class="s" font-size="5.5" text-anchor="end" fill="#6d2c9c" stroke="#6d2c9c" stroke-width="0.12" transform="translate(318.4 271.3) scale(0.93 1)">10<tspan dy="-2.1" font-size="3.6">-2</tspan></text>
<line x1="320.4" y1="282.3" x2="322.4" y2="282.3" stroke="#6d2c9c" stroke-width="0.6"/>
<text class="s" font-size="5.5" text-anchor="end" fill="#6d2c9c" stroke="#6d2c9c" stroke-width="0.12" transform="translate(318.4 285.3) scale(0.93 1)">10<tspan dy="-2.1" font-size="3.6">-3</tspan></text>
<line x1="320.4" y1="296.3" x2="322.4" y2="296.3" stroke="#6d2c9c" stroke-width="0.6"/>
<text class="s" font-size="5.5" text-anchor="end" fill="#6d2c9c" stroke="#6d2c9c" stroke-width="0.12" transform="translate(318.4 299.3) scale(0.93 1)">10<tspan dy="-2.1" font-size="3.6">-4</tspan></text>
<line x1="320.4" y1="310.4" x2="322.4" y2="310.4" stroke="#6d2c9c" stroke-width="0.6"/>
<text class="s" font-size="5.5" text-anchor="end" fill="#6d2c9c" stroke="#6d2c9c" stroke-width="0.12" transform="translate(318.4 313.4) scale(0.93 1)">10<tspan dy="-2.1" font-size="3.6">-5</tspan></text>
<path d="M320.4 236.01h1.1M320.4 233.54h1.1M320.4 231.78h1.1M320.4 230.42h1.1M320.4 229.31h1.1M320.4 228.37h1.1M320.4 227.56h1.1M320.4 226.84h1.1M320.4 250.04h1.1M320.4 247.57h1.1M320.4 245.81h1.1M320.4 244.45h1.1M320.4 243.34h1.1M320.4 242.40h1.1M320.4 241.59h1.1M320.4 240.87h1.1M320.4 264.07h1.1M320.4 261.60h1.1M320.4 259.84h1.1M320.4 258.48h1.1M320.4 257.37h1.1M320.4 256.43h1.1M320.4 255.62h1.1M320.4 254.90h1.1M320.4 278.10h1.1M320.4 275.63h1.1M320.4 273.87h1.1M320.4 272.51h1.1M320.4 271.40h1.1M320.4 270.46h1.1M320.4 269.65h1.1M320.4 268.93h1.1M320.4 292.13h1.1M320.4 289.66h1.1M320.4 287.90h1.1M320.4 286.54h1.1M320.4 285.43h1.1M320.4 284.49h1.1M320.4 283.68h1.1M320.4 282.96h1.1M320.4 306.16h1.1M320.4 303.69h1.1M320.4 301.93h1.1M320.4 300.57h1.1M320.4 299.46h1.1M320.4 298.52h1.1M320.4 297.71h1.1M320.4 296.99h1.1" stroke="#6d2c9c" stroke-width="0.45" opacity="0.8"/>
<line x1="411.4" y1="226.2" x2="409.4" y2="226.2" stroke="#333" stroke-width="0.6"/>
<text class="s" font-size="5.5" fill="#1c1c1c" stroke="#1c1c1c" stroke-width="0.1" transform="translate(413.3 228.1) scale(0.93 1)">0.4</text>
<line x1="411.4" y1="254.2" x2="409.4" y2="254.2" stroke="#333" stroke-width="0.6"/>
<text class="s" font-size="5.5" fill="#1c1c1c" stroke="#1c1c1c" stroke-width="0.1" transform="translate(413.3 256.1) scale(0.93 1)">-0.1</text>
<line x1="411.4" y1="282.4" x2="409.4" y2="282.4" stroke="#333" stroke-width="0.6"/>
<text class="s" font-size="5.5" fill="#1c1c1c" stroke="#1c1c1c" stroke-width="0.1" transform="translate(413.3 284.3) scale(0.93 1)">-0.7</text>
<line x1="411.4" y1="310.4" x2="409.4" y2="310.4" stroke="#333" stroke-width="0.6"/>
<text class="s" font-size="5.5" fill="#1c1c1c" stroke="#1c1c1c" stroke-width="0.1" transform="translate(413.3 312.3) scale(0.93 1)">-1.3</text>
<path d="M328.7 310.4v-1.6M328.7 226.2v1.6M337.0 310.4v-1.6M337.0 226.2v1.6M345.4 310.4v-1.6M345.4 226.2v1.6M353.7 310.4v-1.6M353.7 226.2v1.6M362.1 310.4v-1.6M362.1 226.2v1.6M370.4 310.4v-1.6M370.4 226.2v1.6M378.8 310.4v-1.6M378.8 226.2v1.6M387.1 310.4v-1.6M387.1 226.2v1.6M395.5 310.4v-1.6M395.5 226.2v1.6M403.8 310.4v-1.6M403.8 226.2v1.6" stroke="#333" stroke-width="0.5"/>
<text class="s" font-size="5.9" text-anchor="end" fill="#1c1c1c" stroke="#1c1c1c" stroke-width="0.1" transform="translate(330.7 315.0) rotate(-45) scale(0.93 1)" dy="1.7">80</text>
<text class="s" font-size="5.9" text-anchor="end" fill="#1c1c1c" stroke="#1c1c1c" stroke-width="0.1" transform="translate(347.4 315.0) rotate(-45) scale(0.93 1)" dy="1.7">400</text>
<text class="s" font-size="5.9" text-anchor="end" fill="#1c1c1c" stroke="#1c1c1c" stroke-width="0.1" transform="translate(364.1 315.0) rotate(-45) scale(0.93 1)" dy="1.7">720</text>
<text class="s" font-size="5.9" text-anchor="end" fill="#1c1c1c" stroke="#1c1c1c" stroke-width="0.1" transform="translate(380.8 315.0) rotate(-45) scale(0.93 1)" dy="1.7">1040</text>
<text class="s" font-size="5.9" text-anchor="end" fill="#1c1c1c" stroke="#1c1c1c" stroke-width="0.1" transform="translate(397.5 315.0) rotate(-45) scale(0.93 1)" dy="1.7">1360</text>
<text x="366.0" y="330.1" class="s" font-size="6" text-anchor="middle" fill="#1c1c1c" stroke="#1c1c1c" stroke-width="0.08">Spring Prep. (mm)</text>
<text class="s" font-size="12.6" fill="#111" transform="translate(333.7 242.8) scale(1.04 0.92)">(j)</text>

</g>
<g>
<rect x="449.90" y="241.2" width="8.33" height="69.2" fill="#c58c91" stroke="#9345b3" stroke-opacity="0.55" stroke-width="0.72"/>
<rect x="458.23" y="253.2" width="8.33" height="57.2" fill="#c58c91" stroke="#9345b3" stroke-opacity="0.55" stroke-width="0.72"/>
<rect x="466.56" y="261.0" width="8.33" height="49.4" fill="#c58c91" stroke="#9345b3" stroke-opacity="0.55" stroke-width="0.72"/>
<rect x="474.89" y="267.1" width="8.33" height="43.3" fill="#c58c91" stroke="#9345b3" stroke-opacity="0.55" stroke-width="0.72"/>
<rect x="483.22" y="274.6" width="8.33" height="35.8" fill="#c58c91" stroke="#9345b3" stroke-opacity="0.55" stroke-width="0.72"/>
<rect x="491.55" y="277.1" width="8.33" height="33.3" fill="#c58c91" stroke="#9345b3" stroke-opacity="0.55" stroke-width="0.72"/>
<rect x="499.88" y="281.8" width="8.33" height="28.6" fill="#c58c91" stroke="#9345b3" stroke-opacity="0.55" stroke-width="0.72"/>
<rect x="508.21" y="283.8" width="8.33" height="26.6" fill="#c58c91" stroke="#9345b3" stroke-opacity="0.55" stroke-width="0.72"/>
<rect x="516.54" y="294.0" width="8.33" height="16.4" fill="#c58c91" stroke="#9345b3" stroke-opacity="0.55" stroke-width="0.72"/>
<rect x="524.87" y="299.8" width="8.33" height="10.6" fill="#c58c91" stroke="#9345b3" stroke-opacity="0.55" stroke-width="0.72"/>
<polygon points="454.2,262.8 462.4,290.6 470.4,290.2 479.2,283.5 495.5,277.3 503.7,263.0 512.3,236.5 520.6,236.1 528.8,232.8 528.8,248.7 520.6,252.8 512.3,251.8 503.7,276.3 495.5,290.6 479.2,294.3 470.4,300.8 462.4,299.8 454.2,264.4" fill="#6a6a6a" fill-opacity="0.42"/>
<polyline points="454.2,263.6 462.4,295.3 470.4,295.3 479.2,289.0 484.3,288.0 495.5,284.5 503.7,270.2 512.3,245.2 520.6,244.6 528.8,241.0" fill="none" stroke="#1e1e1e" stroke-width="0.5" stroke-linejoin="round"/>
<path d="M445.8 226.2H537.0V310.4" fill="none" stroke="#858585" stroke-width="0.8"/>
<path d="M445.8 310.4H537.0" fill="none" stroke="#4a4a4a" stroke-width="0.6"/>
<line x1="445.8" y1="226.2" x2="445.8" y2="310.4" stroke="#c6afdb" stroke-width="1.4"/>
<line x1="445.8" y1="226.2" x2="447.8" y2="226.2" stroke="#6d2c9c" stroke-width="0.6"/>
<text class="s" font-size="5.5" text-anchor="end" fill="#6d2c9c" stroke="#6d2c9c" stroke-width="0.12" transform="translate(443.8 229.2) scale(0.93 1)">10<tspan dy="-2.1" font-size="3.6">1</tspan></text>
<line x1="445.8" y1="240.2" x2="447.8" y2="240.2" stroke="#6d2c9c" stroke-width="0.6"/>
<text class="s" font-size="5.5" text-anchor="end" fill="#6d2c9c" stroke="#6d2c9c" stroke-width="0.12" transform="translate(443.8 243.2) scale(0.93 1)">10<tspan dy="-2.1" font-size="3.6">0</tspan></text>
<line x1="445.8" y1="254.3" x2="447.8" y2="254.3" stroke="#6d2c9c" stroke-width="0.6"/>
<text class="s" font-size="5.5" text-anchor="end" fill="#6d2c9c" stroke="#6d2c9c" stroke-width="0.12" transform="translate(443.8 257.3) scale(0.93 1)">10<tspan dy="-2.1" font-size="3.6">-1</tspan></text>
<line x1="445.8" y1="268.3" x2="447.8" y2="268.3" stroke="#6d2c9c" stroke-width="0.6"/>
<text class="s" font-size="5.5" text-anchor="end" fill="#6d2c9c" stroke="#6d2c9c" stroke-width="0.12" transform="translate(443.8 271.3) scale(0.93 1)">10<tspan dy="-2.1" font-size="3.6">-2</tspan></text>
<line x1="445.8" y1="282.3" x2="447.8" y2="282.3" stroke="#6d2c9c" stroke-width="0.6"/>
<text class="s" font-size="5.5" text-anchor="end" fill="#6d2c9c" stroke="#6d2c9c" stroke-width="0.12" transform="translate(443.8 285.3) scale(0.93 1)">10<tspan dy="-2.1" font-size="3.6">-3</tspan></text>
<line x1="445.8" y1="296.3" x2="447.8" y2="296.3" stroke="#6d2c9c" stroke-width="0.6"/>
<text class="s" font-size="5.5" text-anchor="end" fill="#6d2c9c" stroke="#6d2c9c" stroke-width="0.12" transform="translate(443.8 299.3) scale(0.93 1)">10<tspan dy="-2.1" font-size="3.6">-4</tspan></text>
<line x1="445.8" y1="310.4" x2="447.8" y2="310.4" stroke="#6d2c9c" stroke-width="0.6"/>
<text class="s" font-size="5.5" text-anchor="end" fill="#6d2c9c" stroke="#6d2c9c" stroke-width="0.12" transform="translate(443.8 313.4) scale(0.93 1)">10<tspan dy="-2.1" font-size="3.6">-5</tspan></text>
<path d="M445.8 236.01h1.1M445.8 233.54h1.1M445.8 231.78h1.1M445.8 230.42h1.1M445.8 229.31h1.1M445.8 228.37h1.1M445.8 227.56h1.1M445.8 226.84h1.1M445.8 250.04h1.1M445.8 247.57h1.1M445.8 245.81h1.1M445.8 244.45h1.1M445.8 243.34h1.1M445.8 242.40h1.1M445.8 241.59h1.1M445.8 240.87h1.1M445.8 264.07h1.1M445.8 261.60h1.1M445.8 259.84h1.1M445.8 258.48h1.1M445.8 257.37h1.1M445.8 256.43h1.1M445.8 255.62h1.1M445.8 254.90h1.1M445.8 278.10h1.1M445.8 275.63h1.1M445.8 273.87h1.1M445.8 272.51h1.1M445.8 271.40h1.1M445.8 270.46h1.1M445.8 269.65h1.1M445.8 268.93h1.1M445.8 292.13h1.1M445.8 289.66h1.1M445.8 287.90h1.1M445.8 286.54h1.1M445.8 285.43h1.1M445.8 284.49h1.1M445.8 283.68h1.1M445.8 282.96h1.1M445.8 306.16h1.1M445.8 303.69h1.1M445.8 301.93h1.1M445.8 300.57h1.1M445.8 299.46h1.1M445.8 298.52h1.1M445.8 297.71h1.1M445.8 296.99h1.1" stroke="#6d2c9c" stroke-width="0.45" opacity="0.8"/>
<line x1="537.0" y1="226.2" x2="535.0" y2="226.2" stroke="#333" stroke-width="0.6"/>
<text class="s" font-size="5.5" fill="#1c1c1c" stroke="#1c1c1c" stroke-width="0.1" transform="translate(538.9 228.1) scale(0.93 1)">0.6</text>
<line x1="537.0" y1="254.2" x2="535.0" y2="254.2" stroke="#333" stroke-width="0.6"/>
<text class="s" font-size="5.5" fill="#1c1c1c" stroke="#1c1c1c" stroke-width="0.1" transform="translate(538.9 256.1) scale(0.93 1)">-0.4</text>
<line x1="537.0" y1="282.4" x2="535.0" y2="282.4" stroke="#333" stroke-width="0.6"/>
<text class="s" font-size="5.5" fill="#1c1c1c" stroke="#1c1c1c" stroke-width="0.1" transform="translate(538.9 284.3) scale(0.93 1)">-1.3</text>
<line x1="537.0" y1="310.4" x2="535.0" y2="310.4" stroke="#333" stroke-width="0.6"/>
<text class="s" font-size="5.5" fill="#1c1c1c" stroke="#1c1c1c" stroke-width="0.1" transform="translate(538.9 312.3) scale(0.93 1)">-2.2</text>
<path d="M454.1 310.4v-1.6M454.1 226.2v1.6M462.4 310.4v-1.6M462.4 226.2v1.6M470.7 310.4v-1.6M470.7 226.2v1.6M479.1 310.4v-1.6M479.1 226.2v1.6M487.4 310.4v-1.6M487.4 226.2v1.6M495.7 310.4v-1.6M495.7 226.2v1.6M504.0 310.4v-1.6M504.0 226.2v1.6M512.4 310.4v-1.6M512.4 226.2v1.6M520.7 310.4v-1.6M520.7 226.2v1.6M529.0 310.4v-1.6M529.0 226.2v1.6" stroke="#333" stroke-width="0.5"/>
<text class="s" font-size="5.9" text-anchor="end" fill="#1c1c1c" stroke="#1c1c1c" stroke-width="0.1" transform="translate(456.1 315.0) rotate(-45) scale(0.93 1)" dy="1.7">180</text>
<text class="s" font-size="5.9" text-anchor="end" fill="#1c1c1c" stroke="#1c1c1c" stroke-width="0.1" transform="translate(472.7 315.0) rotate(-45) scale(0.93 1)" dy="1.7">900</text>
<text class="s" font-size="5.9" text-anchor="end" fill="#1c1c1c" stroke="#1c1c1c" stroke-width="0.1" transform="translate(489.4 315.0) rotate(-45) scale(0.93 1)" dy="1.7">1620</text>
<text class="s" font-size="5.9" text-anchor="end" fill="#1c1c1c" stroke="#1c1c1c" stroke-width="0.1" transform="translate(506.0 315.0) rotate(-45) scale(0.93 1)" dy="1.7">2340</text>
<text class="s" font-size="5.9" text-anchor="end" fill="#1c1c1c" stroke="#1c1c1c" stroke-width="0.1" transform="translate(522.7 315.0) rotate(-45) scale(0.93 1)" dy="1.7">3060</text>
<text x="491.5" y="330.1" class="s" font-size="6" text-anchor="middle" fill="#1c1c1c" stroke="#1c1c1c" stroke-width="0.08">Summer Prep. (mm)</text>
<text class="s" font-size="12.6" fill="#111" transform="translate(458.3 242.8) scale(1.04 0.92)">(k)</text>

</g>
<g>
<rect x="575.20" y="241.2" width="8.35" height="69.2" fill="#f1bbb3" stroke="#9345b3" stroke-opacity="0.55" stroke-width="0.72"/>
<rect x="583.55" y="255.9" width="8.35" height="54.5" fill="#f1bbb3" stroke="#9345b3" stroke-opacity="0.55" stroke-width="0.72"/>
<rect x="591.90" y="265.1" width="8.35" height="45.3" fill="#f1bbb3" stroke="#9345b3" stroke-opacity="0.55" stroke-width="0.72"/>
<rect x="600.25" y="274.2" width="8.35" height="36.2" fill="#f1bbb3" stroke="#9345b3" stroke-opacity="0.55" stroke-width="0.72"/>
<rect x="608.60" y="282.2" width="8.35" height="28.2" fill="#f1bbb3" stroke="#9345b3" stroke-opacity="0.55" stroke-width="0.72"/>
<rect x="616.95" y="294.0" width="8.35" height="16.4" fill="#f1bbb3" stroke="#9345b3" stroke-opacity="0.55" stroke-width="0.72"/>
<rect x="625.30" y="298.1" width="8.35" height="12.3" fill="#f1bbb3" stroke="#9345b3" stroke-opacity="0.55" stroke-width="0.72"/>
<rect x="633.65" y="301.2" width="8.35" height="9.2" fill="#f1bbb3" stroke="#9345b3" stroke-opacity="0.55" stroke-width="0.72"/>
<rect x="642.00" y="307.9" width="8.35" height="2.5" fill="#f1bbb3" stroke="#9345b3" stroke-opacity="0.55" stroke-width="0.72"/>
<rect x="650.35" y="307.9" width="8.35" height="2.5" fill="#f1bbb3" stroke="#9345b3" stroke-opacity="0.55" stroke-width="0.72"/>
<polygon points="579.7,289.6 587.9,282.4 596.1,251.8 604.3,236.5 613.1,229.9 638.0,229.9 646.2,228.9 654.3,228.9 654.3,245.7 646.2,245.7 638.0,249.7 613.1,249.7 604.3,252.8 596.1,263.0 587.9,291.0 579.7,301.9" fill="#6a6a6a" fill-opacity="0.42"/>
<polyline points="579.7,296.1 587.9,286.5 596.1,257.9 604.3,244.6 613.1,239.1 638.0,239.1 646.2,237.1 654.3,237.1" fill="none" stroke="#1e1e1e" stroke-width="0.5" stroke-linejoin="round"/>
<path d="M571.6 226.2H662.7V310.4" fill="none" stroke="#858585" stroke-width="0.8"/>
<path d="M571.6 310.4H662.7" fill="none" stroke="#4a4a4a" stroke-width="0.6"/>
<line x1="571.6" y1="226.2" x2="571.6" y2="310.4" stroke="#c6afdb" stroke-width="1.4"/>
<line x1="571.6" y1="226.2" x2="573.6" y2="226.2" stroke="#6d2c9c" stroke-width="0.6"/>
<text class="s" font-size="5.5" text-anchor="end" fill="#6d2c9c" stroke="#6d2c9c" stroke-width="0.12" transform="translate(569.6 229.2) scale(0.93 1)">10<tspan dy="-2.1" font-size="3.6">1</tspan></text>
<line x1="571.6" y1="240.2" x2="573.6" y2="240.2" stroke="#6d2c9c" stroke-width="0.6"/>
<text class="s" font-size="5.5" text-anchor="end" fill="#6d2c9c" stroke="#6d2c9c" stroke-width="0.12" transform="translate(569.6 243.2) scale(0.93 1)">10<tspan dy="-2.1" font-size="3.6">0</tspan></text>
<line x1="571.6" y1="254.3" x2="573.6" y2="254.3" stroke="#6d2c9c" stroke-width="0.6"/>
<text class="s" font-size="5.5" text-anchor="end" fill="#6d2c9c" stroke="#6d2c9c" stroke-width="0.12" transform="translate(569.6 257.3) scale(0.93 1)">10<tspan dy="-2.1" font-size="3.6">-1</tspan></text>
<line x1="571.6" y1="268.3" x2="573.6" y2="268.3" stroke="#6d2c9c" stroke-width="0.6"/>
<text class="s" font-size="5.5" text-anchor="end" fill="#6d2c9c" stroke="#6d2c9c" stroke-width="0.12" transform="translate(569.6 271.3) scale(0.93 1)">10<tspan dy="-2.1" font-size="3.6">-2</tspan></text>
<line x1="571.6" y1="282.3" x2="573.6" y2="282.3" stroke="#6d2c9c" stroke-width="0.6"/>
<text class="s" font-size="5.5" text-anchor="end" fill="#6d2c9c" stroke="#6d2c9c" stroke-width="0.12" transform="translate(569.6 285.3) scale(0.93 1)">10<tspan dy="-2.1" font-size="3.6">-3</tspan></text>
<line x1="571.6" y1="296.3" x2="573.6" y2="296.3" stroke="#6d2c9c" stroke-width="0.6"/>
<text class="s" font-size="5.5" text-anchor="end" fill="#6d2c9c" stroke="#6d2c9c" stroke-width="0.12" transform="translate(569.6 299.3) scale(0.93 1)">10<tspan dy="-2.1" font-size="3.6">-4</tspan></text>
<line x1="571.6" y1="310.4" x2="573.6" y2="310.4" stroke="#6d2c9c" stroke-width="0.6"/>
<text class="s" font-size="5.5" text-anchor="end" fill="#6d2c9c" stroke="#6d2c9c" stroke-width="0.12" transform="translate(569.6 313.4) scale(0.93 1)">10<tspan dy="-2.1" font-size="3.6">-5</tspan></text>
<path d="M571.6 236.01h1.1M571.6 233.54h1.1M571.6 231.78h1.1M571.6 230.42h1.1M571.6 229.31h1.1M571.6 228.37h1.1M571.6 227.56h1.1M571.6 226.84h1.1M571.6 250.04h1.1M571.6 247.57h1.1M571.6 245.81h1.1M571.6 244.45h1.1M571.6 243.34h1.1M571.6 242.40h1.1M571.6 241.59h1.1M571.6 240.87h1.1M571.6 264.07h1.1M571.6 261.60h1.1M571.6 259.84h1.1M571.6 258.48h1.1M571.6 257.37h1.1M571.6 256.43h1.1M571.6 255.62h1.1M571.6 254.90h1.1M571.6 278.10h1.1M571.6 275.63h1.1M571.6 273.87h1.1M571.6 272.51h1.1M571.6 271.40h1.1M571.6 270.46h1.1M571.6 269.65h1.1M571.6 268.93h1.1M571.6 292.13h1.1M571.6 289.66h1.1M571.6 287.90h1.1M571.6 286.54h1.1M571.6 285.43h1.1M571.6 284.49h1.1M571.6 283.68h1.1M571.6 282.96h1.1M571.6 306.16h1.1M571.6 303.69h1.1M571.6 301.93h1.1M571.6 300.57h1.1M571.6 299.46h1.1M571.6 298.52h1.1M571.6 297.71h1.1M571.6 296.99h1.1" stroke="#6d2c9c" stroke-width="0.45" opacity="0.8"/>
<line x1="662.7" y1="226.2" x2="660.7" y2="226.2" stroke="#333" stroke-width="0.6"/>
<text class="s" font-size="5.5" fill="#1c1c1c" stroke="#1c1c1c" stroke-width="0.1" transform="translate(664.6 228.1) scale(0.93 1)">0.6</text>
<line x1="662.7" y1="254.2" x2="660.7" y2="254.2" stroke="#333" stroke-width="0.6"/>
<text class="s" font-size="5.5" fill="#1c1c1c" stroke="#1c1c1c" stroke-width="0.1" transform="translate(664.6 256.1) scale(0.93 1)">-0.2</text>
<line x1="662.7" y1="282.4" x2="660.7" y2="282.4" stroke="#333" stroke-width="0.6"/>
<text class="s" font-size="5.5" fill="#1c1c1c" stroke="#1c1c1c" stroke-width="0.1" transform="translate(664.6 284.3) scale(0.93 1)">-0.9</text>
<line x1="662.7" y1="310.4" x2="660.7" y2="310.4" stroke="#333" stroke-width="0.6"/>
<text class="s" font-size="5.5" fill="#1c1c1c" stroke="#1c1c1c" stroke-width="0.1" transform="translate(664.6 312.3) scale(0.93 1)">-1.7</text>
<path d="M579.4 310.4v-1.6M579.4 226.2v1.6M587.7 310.4v-1.6M587.7 226.2v1.6M596.1 310.4v-1.6M596.1 226.2v1.6M604.4 310.4v-1.6M604.4 226.2v1.6M612.8 310.4v-1.6M612.8 226.2v1.6M621.1 310.4v-1.6M621.1 226.2v1.6M629.5 310.4v-1.6M629.5 226.2v1.6M637.8 310.4v-1.6M637.8 226.2v1.6M646.2 310.4v-1.6M646.2 226.2v1.6M654.5 310.4v-1.6M654.5 226.2v1.6" stroke="#333" stroke-width="0.5"/>
<text class="s" font-size="5.9" text-anchor="end" fill="#1c1c1c" stroke="#1c1c1c" stroke-width="0.1" transform="translate(581.4 315.0) rotate(-45) scale(0.93 1)" dy="1.7">105</text>
<text class="s" font-size="5.9" text-anchor="end" fill="#1c1c1c" stroke="#1c1c1c" stroke-width="0.1" transform="translate(598.1 315.0) rotate(-45) scale(0.93 1)" dy="1.7">525</text>
<text class="s" font-size="5.9" text-anchor="end" fill="#1c1c1c" stroke="#1c1c1c" stroke-width="0.1" transform="translate(614.8 315.0) rotate(-45) scale(0.93 1)" dy="1.7">945</text>
<text class="s" font-size="5.9" text-anchor="end" fill="#1c1c1c" stroke="#1c1c1c" stroke-width="0.1" transform="translate(631.5 315.0) rotate(-45) scale(0.93 1)" dy="1.7">1365</text>
<text class="s" font-size="5.9" text-anchor="end" fill="#1c1c1c" stroke="#1c1c1c" stroke-width="0.1" transform="translate(648.2 315.0) rotate(-45) scale(0.93 1)" dy="1.7">1785</text>
<text x="617.0" y="330.1" class="s" font-size="6" text-anchor="middle" fill="#1c1c1c" stroke="#1c1c1c" stroke-width="0.08">Autumn Prep. (mm)</text>
<text class="s" font-size="12.6" fill="#111" transform="translate(585.3 242.8) scale(1.04 0.92)">(l)</text>

</g>
<g>
<rect x="198.70" y="351.2" width="7.81" height="70.2" fill="#b3c1b8" stroke="#9345b3" stroke-opacity="0.55" stroke-width="0.72"/>
<rect x="206.51" y="368.3" width="7.81" height="53.1" fill="#b3c1b8" stroke="#9345b3" stroke-opacity="0.55" stroke-width="0.72"/>
<rect x="214.32" y="376.4" width="7.81" height="45.0" fill="#b3c1b8" stroke="#9345b3" stroke-opacity="0.55" stroke-width="0.72"/>
<rect x="222.13" y="385.2" width="7.81" height="36.2" fill="#b3c1b8" stroke="#9345b3" stroke-opacity="0.55" stroke-width="0.72"/>
<rect x="229.94" y="387.3" width="7.81" height="34.1" fill="#b3c1b8" stroke="#9345b3" stroke-opacity="0.55" stroke-width="0.72"/>
<rect x="237.75" y="392.4" width="7.81" height="29.0" fill="#b3c1b8" stroke="#9345b3" stroke-opacity="0.55" stroke-width="0.72"/>
<rect x="245.56" y="394.2" width="7.81" height="27.2" fill="#b3c1b8" stroke="#9345b3" stroke-opacity="0.55" stroke-width="0.72"/>
<rect x="253.37" y="401.4" width="7.81" height="20.0" fill="#b3c1b8" stroke="#9345b3" stroke-opacity="0.55" stroke-width="0.72"/>
<rect x="261.18" y="405.0" width="7.81" height="16.4" fill="#b3c1b8" stroke="#9345b3" stroke-opacity="0.55" stroke-width="0.72"/>
<rect x="268.99" y="412.2" width="7.81" height="9.2" fill="#b3c1b8" stroke="#9345b3" stroke-opacity="0.55" stroke-width="0.72"/>
<polygon points="202.0,420.4 206.0,410.4 210.2,399.6 214.9,375.0 218.3,352.6 226.1,356.7 234.3,371.0 241.4,367.5 256.8,372.0 272.7,372.0 272.7,387.3 256.8,387.3 241.4,380.6 234.3,383.2 226.1,362.8 218.3,358.7 214.9,377.8 211.2,401.6 207.0,411.6 202.8,421.2" fill="#6a6a6a" fill-opacity="0.42"/>
<polyline points="202.4,420.8 206.5,411.0 210.7,400.6 214.9,376.4 218.3,355.7 226.1,359.7 234.3,376.7 241.4,374.0 245.5,374.5 256.8,379.2 272.7,379.2" fill="none" stroke="#1e1e1e" stroke-width="0.5" stroke-linejoin="round"/>
<path d="M195.0 336.9H280.9V421.4" fill="none" stroke="#858585" stroke-width="0.8"/>
<path d="M195.0 421.4H280.9" fill="none" stroke="#4a4a4a" stroke-width="0.6"/>
<line x1="195.0" y1="336.9" x2="195.0" y2="421.4" stroke="#c6afdb" stroke-width="1.4"/>
<line x1="195.0" y1="336.9" x2="197.0" y2="336.9" stroke="#6d2c9c" stroke-width="0.6"/>
<text class="s" font-size="5.5" text-anchor="end" fill="#6d2c9c" stroke="#6d2c9c" stroke-width="0.12" transform="translate(193.0 339.9) scale(0.93 1)">10<tspan dy="-2.1" font-size="3.6">1</tspan></text>
<line x1="195.0" y1="351.0" x2="197.0" y2="351.0" stroke="#6d2c9c" stroke-width="0.6"/>
<text class="s" font-size="5.5" text-anchor="end" fill="#6d2c9c" stroke="#6d2c9c" stroke-width="0.12" transform="translate(193.0 354.0) scale(0.93 1)">10<tspan dy="-2.1" font-size="3.6">0</tspan></text>
<line x1="195.0" y1="365.1" x2="197.0" y2="365.1" stroke="#6d2c9c" stroke-width="0.6"/>
<text class="s" font-size="5.5" text-anchor="end" fill="#6d2c9c" stroke="#6d2c9c" stroke-width="0.12" transform="translate(193.0 368.1) scale(0.93 1)">10<tspan dy="-2.1" font-size="3.6">-1</tspan></text>
<line x1="195.0" y1="379.1" x2="197.0" y2="379.1" stroke="#6d2c9c" stroke-width="0.6"/>
<text class="s" font-size="5.5" text-anchor="end" fill="#6d2c9c" stroke="#6d2c9c" stroke-width="0.12" transform="translate(193.0 382.1) scale(0.93 1)">10<tspan dy="-2.1" font-size="3.6">-2</tspan></text>
<line x1="195.0" y1="393.2" x2="197.0" y2="393.2" stroke="#6d2c9c" stroke-width="0.6"/>
<text class="s" font-size="5.5" text-anchor="end" fill="#6d2c9c" stroke="#6d2c9c" stroke-width="0.12" transform="translate(193.0 396.2) scale(0.93 1)">10<tspan dy="-2.1" font-size="3.6">-3</tspan></text>
<line x1="195.0" y1="407.3" x2="197.0" y2="407.3" stroke="#6d2c9c" stroke-width="0.6"/>
<text class="s" font-size="5.5" text-anchor="end" fill="#6d2c9c" stroke="#6d2c9c" stroke-width="0.12" transform="translate(193.0 410.3) scale(0.93 1)">10<tspan dy="-2.1" font-size="3.6">-4</tspan></text>
<line x1="195.0" y1="421.4" x2="197.0" y2="421.4" stroke="#6d2c9c" stroke-width="0.6"/>
<text class="s" font-size="5.5" text-anchor="end" fill="#6d2c9c" stroke="#6d2c9c" stroke-width="0.12" transform="translate(193.0 424.4) scale(0.93 1)">10<tspan dy="-2.1" font-size="3.6">-5</tspan></text>
<path d="M195.0 346.74h1.1M195.0 344.26h1.1M195.0 342.50h1.1M195.0 341.14h1.1M195.0 340.02h1.1M195.0 339.08h1.1M195.0 338.26h1.1M195.0 337.54h1.1M195.0 360.82h1.1M195.0 358.34h1.1M195.0 356.58h1.1M195.0 355.22h1.1M195.0 354.10h1.1M195.0 353.16h1.1M195.0 352.34h1.1M195.0 351.62h1.1M195.0 374.90h1.1M195.0 372.42h1.1M195.0 370.66h1.1M195.0 369.30h1.1M195.0 368.18h1.1M195.0 367.24h1.1M195.0 366.42h1.1M195.0 365.70h1.1M195.0 388.98h1.1M195.0 386.50h1.1M195.0 384.74h1.1M195.0 383.38h1.1M195.0 382.26h1.1M195.0 381.32h1.1M195.0 380.50h1.1M195.0 379.78h1.1M195.0 403.06h1.1M195.0 400.58h1.1M195.0 398.82h1.1M195.0 397.46h1.1M195.0 396.34h1.1M195.0 395.40h1.1M195.0 394.58h1.1M195.0 393.86h1.1M195.0 417.14h1.1M195.0 414.66h1.1M195.0 412.90h1.1M195.0 411.54h1.1M195.0 410.42h1.1M195.0 409.48h1.1M195.0 408.66h1.1M195.0 407.94h1.1" stroke="#6d2c9c" stroke-width="0.45" opacity="0.8"/>
<line x1="280.9" y1="336.9" x2="278.9" y2="336.9" stroke="#333" stroke-width="0.6"/>
<text class="s" font-size="5.5" fill="#1c1c1c" stroke="#1c1c1c" stroke-width="0.1" transform="translate(282.8 338.8) scale(0.93 1)">38.500</text>
<line x1="280.9" y1="365.2" x2="278.9" y2="365.2" stroke="#333" stroke-width="0.6"/>
<text class="s" font-size="5.5" fill="#1c1c1c" stroke="#1c1c1c" stroke-width="0.1" transform="translate(282.8 367.1) scale(0.93 1)">25.667</text>
<line x1="280.9" y1="393.4" x2="278.9" y2="393.4" stroke="#333" stroke-width="0.6"/>
<text class="s" font-size="5.5" fill="#1c1c1c" stroke="#1c1c1c" stroke-width="0.1" transform="translate(282.8 395.3) scale(0.93 1)">12.833</text>
<line x1="280.9" y1="421.4" x2="278.9" y2="421.4" stroke="#333" stroke-width="0.6"/>
<text class="s" font-size="5.5" fill="#1c1c1c" stroke="#1c1c1c" stroke-width="0.1" transform="translate(282.8 423.3) scale(0.93 1)">0.000</text>
<path d="M202.6 421.4v-1.6M202.6 336.9v1.6M210.4 421.4v-1.6M210.4 336.9v1.6M218.2 421.4v-1.6M218.2 336.9v1.6M226.0 421.4v-1.6M226.0 336.9v1.6M233.8 421.4v-1.6M233.8 336.9v1.6M241.7 421.4v-1.6M241.7 336.9v1.6M249.5 421.4v-1.6M249.5 336.9v1.6M257.3 421.4v-1.6M257.3 336.9v1.6M265.1 421.4v-1.6M265.1 336.9v1.6M272.9 421.4v-1.6M272.9 336.9v1.6" stroke="#333" stroke-width="0.5"/>
<text class="s" font-size="5.9" text-anchor="end" fill="#1c1c1c" stroke="#1c1c1c" stroke-width="0.1" transform="translate(204.6 426.0) rotate(-45) scale(0.93 1)" dy="1.7">60</text>
<text class="s" font-size="5.9" text-anchor="end" fill="#1c1c1c" stroke="#1c1c1c" stroke-width="0.1" transform="translate(220.2 426.0) rotate(-45) scale(0.93 1)" dy="1.7">300</text>
<text class="s" font-size="5.9" text-anchor="end" fill="#1c1c1c" stroke="#1c1c1c" stroke-width="0.1" transform="translate(235.8 426.0) rotate(-45) scale(0.93 1)" dy="1.7">540</text>
<text class="s" font-size="5.9" text-anchor="end" fill="#1c1c1c" stroke="#1c1c1c" stroke-width="0.1" transform="translate(251.5 426.0) rotate(-45) scale(0.93 1)" dy="1.7">780</text>
<text class="s" font-size="5.9" text-anchor="end" fill="#1c1c1c" stroke="#1c1c1c" stroke-width="0.1" transform="translate(267.1 426.0) rotate(-45) scale(0.93 1)" dy="1.7">1020</text>
<text x="237.9" y="441.1" class="s" font-size="6" text-anchor="middle" fill="#1c1c1c" stroke="#1c1c1c" stroke-width="0.08">Population density</text>
<text class="s" font-size="12.6" fill="#111" transform="translate(227.7 352.2) scale(1.04 0.92)">(l)</text>

</g>
<g>
<rect x="324.50" y="354.2" width="8.30" height="67.8" fill="#87a6a9" stroke="#9345b3" stroke-opacity="0.55" stroke-width="0.72"/>
<rect x="332.80" y="402.4" width="8.30" height="19.6" fill="#87a6a9" stroke="#9345b3" stroke-opacity="0.55" stroke-width="0.72"/>
<rect x="341.10" y="409.5" width="8.30" height="12.5" fill="#87a6a9" stroke="#9345b3" stroke-opacity="0.55" stroke-width="0.72"/>
<rect x="349.40" y="415.3" width="8.30" height="6.7" fill="#87a6a9" stroke="#9345b3" stroke-opacity="0.55" stroke-width="0.72"/>
<rect x="357.70" y="412.2" width="8.30" height="9.8" fill="#87a6a9" stroke="#9345b3" stroke-opacity="0.55" stroke-width="0.72"/>
<rect x="366.00" y="418.3" width="8.30" height="3.7" fill="#87a6a9" stroke="#9345b3" stroke-opacity="0.55" stroke-width="0.72"/>
<rect x="374.30" y="416.3" width="8.30" height="5.7" fill="#87a6a9" stroke="#9345b3" stroke-opacity="0.55" stroke-width="0.72"/>
<rect x="382.60" y="421.4" width="8.30" height="0.6" fill="#87a6a9" stroke="#9345b3" stroke-opacity="0.55" stroke-width="0.72"/>
<rect x="390.90" y="419.4" width="8.30" height="2.6" fill="#87a6a9" stroke="#9345b3" stroke-opacity="0.55" stroke-width="0.72"/>
<polygon points="329.0,346.5 345.4,385.3 361.3,385.3 370.5,388.4 403.2,388.8 403.2,415.3 370.5,414.2 361.3,412.2 345.4,412.9 329.0,371.0" fill="#6a6a6a" fill-opacity="0.42"/>
<polyline points="329.0,358.7 345.4,399.2 361.3,399.6 370.5,401.6 386.9,402.7 403.2,402.7" fill="none" stroke="#1e1e1e" stroke-width="0.5" stroke-linejoin="round"/>
<path d="M320.4 336.9H411.4V422.0" fill="none" stroke="#858585" stroke-width="0.8"/>
<path d="M320.4 422.0H411.4" fill="none" stroke="#4a4a4a" stroke-width="0.6"/>
<line x1="320.4" y1="336.9" x2="320.4" y2="422.0" stroke="#c6afdb" stroke-width="1.4"/>
<line x1="320.4" y1="336.9" x2="322.4" y2="336.9" stroke="#6d2c9c" stroke-width="0.6"/>
<text class="s" font-size="5.5" text-anchor="end" fill="#6d2c9c" stroke="#6d2c9c" stroke-width="0.12" transform="translate(318.4 339.9) scale(0.93 1)">10<tspan dy="-2.1" font-size="3.6">1</tspan></text>
<line x1="320.4" y1="353.9" x2="322.4" y2="353.9" stroke="#6d2c9c" stroke-width="0.6"/>
<text class="s" font-size="5.5" text-anchor="end" fill="#6d2c9c" stroke="#6d2c9c" stroke-width="0.12" transform="translate(318.4 356.9) scale(0.93 1)">10<tspan dy="-2.1" font-size="3.6">0</tspan></text>
<line x1="320.4" y1="370.9" x2="322.4" y2="370.9" stroke="#6d2c9c" stroke-width="0.6"/>
<text class="s" font-size="5.5" text-anchor="end" fill="#6d2c9c" stroke="#6d2c9c" stroke-width="0.12" transform="translate(318.4 373.9) scale(0.93 1)">10<tspan dy="-2.1" font-size="3.6">-1</tspan></text>
<line x1="320.4" y1="388.0" x2="322.4" y2="388.0" stroke="#6d2c9c" stroke-width="0.6"/>
<text class="s" font-size="5.5" text-anchor="end" fill="#6d2c9c" stroke="#6d2c9c" stroke-width="0.12" transform="translate(318.4 391.0) scale(0.93 1)">10<tspan dy="-2.1" font-size="3.6">-2</tspan></text>
<line x1="320.4" y1="405.0" x2="322.4" y2="405.0" stroke="#6d2c9c" stroke-width="0.6"/>
<text class="s" font-size="5.5" text-anchor="end" fill="#6d2c9c" stroke="#6d2c9c" stroke-width="0.12" transform="translate(318.4 408.0) scale(0.93 1)">10<tspan dy="-2.1" font-size="3.6">-3</tspan></text>
<line x1="320.4" y1="422.0" x2="322.4" y2="422.0" stroke="#6d2c9c" stroke-width="0.6"/>
<text class="s" font-size="5.5" text-anchor="end" fill="#6d2c9c" stroke="#6d2c9c" stroke-width="0.12" transform="translate(318.4 425.0) scale(0.93 1)">10<tspan dy="-2.1" font-size="3.6">-4</tspan></text>
<path d="M320.4 348.80h1.1M320.4 345.80h1.1M320.4 343.67h1.1M320.4 342.02h1.1M320.4 340.68h1.1M320.4 339.54h1.1M320.4 338.55h1.1M320.4 337.68h1.1M320.4 365.82h1.1M320.4 362.82h1.1M320.4 360.69h1.1M320.4 359.04h1.1M320.4 357.70h1.1M320.4 356.56h1.1M320.4 355.57h1.1M320.4 354.70h1.1M320.4 382.84h1.1M320.4 379.84h1.1M320.4 377.71h1.1M320.4 376.06h1.1M320.4 374.72h1.1M320.4 373.58h1.1M320.4 372.59h1.1M320.4 371.72h1.1M320.4 399.86h1.1M320.4 396.86h1.1M320.4 394.73h1.1M320.4 393.08h1.1M320.4 391.74h1.1M320.4 390.60h1.1M320.4 389.61h1.1M320.4 388.74h1.1M320.4 416.88h1.1M320.4 413.88h1.1M320.4 411.75h1.1M320.4 410.10h1.1M320.4 408.76h1.1M320.4 407.62h1.1M320.4 406.63h1.1M320.4 405.76h1.1" stroke="#6d2c9c" stroke-width="0.45" opacity="0.8"/>
<line x1="411.4" y1="336.9" x2="409.4" y2="336.9" stroke="#333" stroke-width="0.6"/>
<text class="s" font-size="5.5" fill="#1c1c1c" stroke="#1c1c1c" stroke-width="0.1" transform="translate(413.3 338.8) scale(0.93 1)">24.2</text>
<line x1="411.4" y1="365.2" x2="409.4" y2="365.2" stroke="#333" stroke-width="0.6"/>
<text class="s" font-size="5.5" fill="#1c1c1c" stroke="#1c1c1c" stroke-width="0.1" transform="translate(413.3 367.1) scale(0.93 1)">16.7</text>
<line x1="411.4" y1="393.8" x2="409.4" y2="393.8" stroke="#333" stroke-width="0.6"/>
<text class="s" font-size="5.5" fill="#1c1c1c" stroke="#1c1c1c" stroke-width="0.1" transform="translate(413.3 395.8) scale(0.93 1)">9.3</text>
<line x1="411.4" y1="422.0" x2="409.4" y2="422.0" stroke="#333" stroke-width="0.6"/>
<text class="s" font-size="5.5" fill="#1c1c1c" stroke="#1c1c1c" stroke-width="0.1" transform="translate(413.3 423.9) scale(0.93 1)">1.8</text>
<path d="M328.6 422.0v-1.6M328.6 336.9v1.6M336.9 422.0v-1.6M336.9 336.9v1.6M345.2 422.0v-1.6M345.2 336.9v1.6M353.6 422.0v-1.6M353.6 336.9v1.6M361.9 422.0v-1.6M361.9 336.9v1.6M370.1 422.0v-1.6M370.1 336.9v1.6M378.4 422.0v-1.6M378.4 336.9v1.6M386.8 422.0v-1.6M386.8 336.9v1.6M395.1 422.0v-1.6M395.1 336.9v1.6M403.4 422.0v-1.6M403.4 336.9v1.6" stroke="#333" stroke-width="0.5"/>
<text class="s" font-size="5.9" text-anchor="end" fill="#1c1c1c" stroke="#1c1c1c" stroke-width="0.1" transform="translate(330.6 426.6) rotate(-45) scale(0.93 1)" dy="1.7">3.7</text>
<text class="s" font-size="5.9" text-anchor="end" fill="#1c1c1c" stroke="#1c1c1c" stroke-width="0.1" transform="translate(347.2 426.6) rotate(-45) scale(0.93 1)" dy="1.7">18.5</text>
<text class="s" font-size="5.9" text-anchor="end" fill="#1c1c1c" stroke="#1c1c1c" stroke-width="0.1" transform="translate(363.9 426.6) rotate(-45) scale(0.93 1)" dy="1.7">33.3</text>
<text class="s" font-size="5.9" text-anchor="end" fill="#1c1c1c" stroke="#1c1c1c" stroke-width="0.1" transform="translate(380.4 426.6) rotate(-45) scale(0.93 1)" dy="1.7">48.1</text>
<text class="s" font-size="5.9" text-anchor="end" fill="#1c1c1c" stroke="#1c1c1c" stroke-width="0.1" transform="translate(397.1 426.6) rotate(-45) scale(0.93 1)" dy="1.7">62.9</text>
<text x="366.4" y="441.1" class="s" font-size="6" text-anchor="middle" fill="#1c1c1c" stroke="#1c1c1c" stroke-width="0.08">GDP (PPP)</text>
<text class="s" font-size="12.6" fill="#111" transform="translate(335.8 352.0) scale(1.04 0.92)">(m)</text>
<text x="400.0" y="433.3" class="s" font-size="6.6" fill="#1c1c1c">×10<tspan dy="-2.4" font-size="4.4">6</tspan></text>
</g>
<text x="0" y="0" class="s" font-size="8.5" font-weight="bold" fill="#5b2482" stroke="#5b2482" stroke-width="0.15" text-anchor="middle" transform="translate(177.8 56.7) rotate(-90)">Freq.</text>
<text x="0" y="0" class="s" font-size="8.5" font-weight="bold" fill="#5b2482" stroke="#5b2482" stroke-width="0.15" text-anchor="middle" transform="translate(177.8 164.8) rotate(-90)">Freq.</text>
<text x="0" y="0" class="s" font-size="8.5" font-weight="bold" fill="#5b2482" stroke="#5b2482" stroke-width="0.15" text-anchor="middle" transform="translate(177.8 272.6) rotate(-90)">Freq.</text>
<text x="0" y="0" class="s" font-size="8.5" font-weight="bold" fill="#5b2482" stroke="#5b2482" stroke-width="0.15" text-anchor="middle" transform="translate(177.8 380.6) rotate(-90)">Freq.</text>
<text x="0" y="0" class="s" font-size="8.6" font-weight="bold" fill="#1a1a1a" stroke="#1a1a1a" stroke-width="0.15" text-anchor="middle" transform="translate(554.0 48.0) rotate(90)">ALE (kha)</text>
<text x="0" y="0" class="s" font-size="8.6" font-weight="bold" fill="#1a1a1a" stroke="#1a1a1a" stroke-width="0.15" text-anchor="middle" transform="translate(679.4 161.4) rotate(90)">ALE (kha)</text>
<text x="0" y="0" class="s" font-size="8.6" font-weight="bold" fill="#1a1a1a" stroke="#1a1a1a" stroke-width="0.15" text-anchor="middle" transform="translate(679.4 267.0) rotate(90)">ALE (kha)</text>
<text x="0" y="0" class="s" font-size="8.6" font-weight="bold" fill="#1a1a1a" stroke="#1a1a1a" stroke-width="0.15" text-anchor="middle" transform="translate(428.0 380.6) rotate(90)">ALE (kha)</text>
</svg></body></html>
